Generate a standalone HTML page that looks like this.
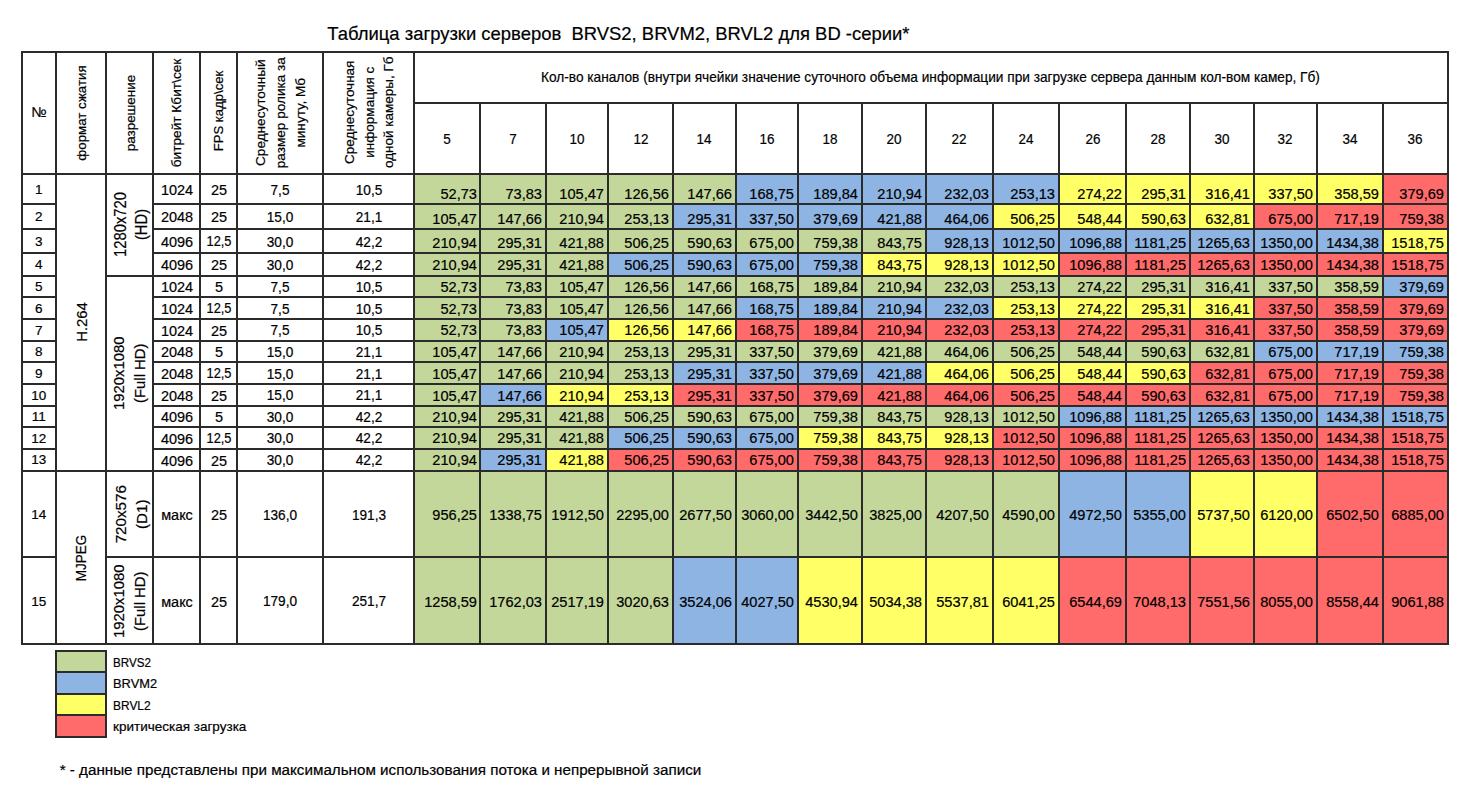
<!DOCTYPE html>
<html><head><meta charset="utf-8"><style>
html,body{margin:0;padding:0;background:#fff;width:1470px;height:800px;overflow:hidden}
.r{position:absolute}
.t{position:absolute;white-space:nowrap;font-family:"Liberation Sans", sans-serif;color:#000;-webkit-text-stroke:0.2px #000}
</style></head><body>
<div class="r" style="left:413px;top:173px;width:68px;height:32px;background:#c4d79b"></div>
<div class="r" style="left:479px;top:173px;width:68px;height:32px;background:#c4d79b"></div>
<div class="r" style="left:545px;top:173px;width:64px;height:32px;background:#c4d79b"></div>
<div class="r" style="left:607px;top:173px;width:67px;height:32px;background:#c4d79b"></div>
<div class="r" style="left:672px;top:173px;width:65px;height:32px;background:#c4d79b"></div>
<div class="r" style="left:735px;top:173px;width:64px;height:32px;background:#8db4e2"></div>
<div class="r" style="left:797px;top:173px;width:66px;height:32px;background:#8db4e2"></div>
<div class="r" style="left:861px;top:173px;width:66px;height:32px;background:#8db4e2"></div>
<div class="r" style="left:925px;top:173px;width:69px;height:32px;background:#8db4e2"></div>
<div class="r" style="left:992px;top:173px;width:68px;height:32px;background:#8db4e2"></div>
<div class="r" style="left:1058px;top:173px;width:69px;height:32px;background:#ffff66"></div>
<div class="r" style="left:1125px;top:173px;width:66px;height:32px;background:#ffff66"></div>
<div class="r" style="left:1189px;top:173px;width:66px;height:32px;background:#ffff66"></div>
<div class="r" style="left:1253px;top:173px;width:65px;height:32px;background:#ffff66"></div>
<div class="r" style="left:1316px;top:173px;width:68px;height:32px;background:#ffff66"></div>
<div class="r" style="left:1382px;top:173px;width:67px;height:32px;background:#ff6b6b"></div>
<div class="r" style="left:413px;top:203px;width:68px;height:27px;background:#c4d79b"></div>
<div class="r" style="left:479px;top:203px;width:68px;height:27px;background:#c4d79b"></div>
<div class="r" style="left:545px;top:203px;width:64px;height:27px;background:#c4d79b"></div>
<div class="r" style="left:607px;top:203px;width:67px;height:27px;background:#c4d79b"></div>
<div class="r" style="left:672px;top:203px;width:65px;height:27px;background:#8db4e2"></div>
<div class="r" style="left:735px;top:203px;width:64px;height:27px;background:#8db4e2"></div>
<div class="r" style="left:797px;top:203px;width:66px;height:27px;background:#8db4e2"></div>
<div class="r" style="left:861px;top:203px;width:66px;height:27px;background:#8db4e2"></div>
<div class="r" style="left:925px;top:203px;width:69px;height:27px;background:#8db4e2"></div>
<div class="r" style="left:992px;top:203px;width:68px;height:27px;background:#ffff66"></div>
<div class="r" style="left:1058px;top:203px;width:69px;height:27px;background:#ffff66"></div>
<div class="r" style="left:1125px;top:203px;width:66px;height:27px;background:#ffff66"></div>
<div class="r" style="left:1189px;top:203px;width:66px;height:27px;background:#ffff66"></div>
<div class="r" style="left:1253px;top:203px;width:65px;height:27px;background:#ff6b6b"></div>
<div class="r" style="left:1316px;top:203px;width:68px;height:27px;background:#ff6b6b"></div>
<div class="r" style="left:1382px;top:203px;width:67px;height:27px;background:#ff6b6b"></div>
<div class="r" style="left:413px;top:228px;width:68px;height:26px;background:#c4d79b"></div>
<div class="r" style="left:479px;top:228px;width:68px;height:26px;background:#c4d79b"></div>
<div class="r" style="left:545px;top:228px;width:64px;height:26px;background:#c4d79b"></div>
<div class="r" style="left:607px;top:228px;width:67px;height:26px;background:#c4d79b"></div>
<div class="r" style="left:672px;top:228px;width:65px;height:26px;background:#c4d79b"></div>
<div class="r" style="left:735px;top:228px;width:64px;height:26px;background:#c4d79b"></div>
<div class="r" style="left:797px;top:228px;width:66px;height:26px;background:#c4d79b"></div>
<div class="r" style="left:861px;top:228px;width:66px;height:26px;background:#c4d79b"></div>
<div class="r" style="left:925px;top:228px;width:69px;height:26px;background:#8db4e2"></div>
<div class="r" style="left:992px;top:228px;width:68px;height:26px;background:#8db4e2"></div>
<div class="r" style="left:1058px;top:228px;width:69px;height:26px;background:#8db4e2"></div>
<div class="r" style="left:1125px;top:228px;width:66px;height:26px;background:#8db4e2"></div>
<div class="r" style="left:1189px;top:228px;width:66px;height:26px;background:#8db4e2"></div>
<div class="r" style="left:1253px;top:228px;width:65px;height:26px;background:#8db4e2"></div>
<div class="r" style="left:1316px;top:228px;width:68px;height:26px;background:#8db4e2"></div>
<div class="r" style="left:1382px;top:228px;width:67px;height:26px;background:#ffff66"></div>
<div class="r" style="left:413px;top:252px;width:68px;height:25px;background:#c4d79b"></div>
<div class="r" style="left:479px;top:252px;width:68px;height:25px;background:#c4d79b"></div>
<div class="r" style="left:545px;top:252px;width:64px;height:25px;background:#c4d79b"></div>
<div class="r" style="left:607px;top:252px;width:67px;height:25px;background:#8db4e2"></div>
<div class="r" style="left:672px;top:252px;width:65px;height:25px;background:#8db4e2"></div>
<div class="r" style="left:735px;top:252px;width:64px;height:25px;background:#8db4e2"></div>
<div class="r" style="left:797px;top:252px;width:66px;height:25px;background:#8db4e2"></div>
<div class="r" style="left:861px;top:252px;width:66px;height:25px;background:#ffff66"></div>
<div class="r" style="left:925px;top:252px;width:69px;height:25px;background:#ffff66"></div>
<div class="r" style="left:992px;top:252px;width:68px;height:25px;background:#ffff66"></div>
<div class="r" style="left:1058px;top:252px;width:69px;height:25px;background:#ff6b6b"></div>
<div class="r" style="left:1125px;top:252px;width:66px;height:25px;background:#ff6b6b"></div>
<div class="r" style="left:1189px;top:252px;width:66px;height:25px;background:#ff6b6b"></div>
<div class="r" style="left:1253px;top:252px;width:65px;height:25px;background:#ff6b6b"></div>
<div class="r" style="left:1316px;top:252px;width:68px;height:25px;background:#ff6b6b"></div>
<div class="r" style="left:1382px;top:252px;width:67px;height:25px;background:#ff6b6b"></div>
<div class="r" style="left:413px;top:275px;width:68px;height:23px;background:#c4d79b"></div>
<div class="r" style="left:479px;top:275px;width:68px;height:23px;background:#c4d79b"></div>
<div class="r" style="left:545px;top:275px;width:64px;height:23px;background:#c4d79b"></div>
<div class="r" style="left:607px;top:275px;width:67px;height:23px;background:#c4d79b"></div>
<div class="r" style="left:672px;top:275px;width:65px;height:23px;background:#c4d79b"></div>
<div class="r" style="left:735px;top:275px;width:64px;height:23px;background:#c4d79b"></div>
<div class="r" style="left:797px;top:275px;width:66px;height:23px;background:#c4d79b"></div>
<div class="r" style="left:861px;top:275px;width:66px;height:23px;background:#c4d79b"></div>
<div class="r" style="left:925px;top:275px;width:69px;height:23px;background:#c4d79b"></div>
<div class="r" style="left:992px;top:275px;width:68px;height:23px;background:#c4d79b"></div>
<div class="r" style="left:1058px;top:275px;width:69px;height:23px;background:#c4d79b"></div>
<div class="r" style="left:1125px;top:275px;width:66px;height:23px;background:#c4d79b"></div>
<div class="r" style="left:1189px;top:275px;width:66px;height:23px;background:#c4d79b"></div>
<div class="r" style="left:1253px;top:275px;width:65px;height:23px;background:#c4d79b"></div>
<div class="r" style="left:1316px;top:275px;width:68px;height:23px;background:#c4d79b"></div>
<div class="r" style="left:1382px;top:275px;width:67px;height:23px;background:#8db4e2"></div>
<div class="r" style="left:413px;top:296px;width:68px;height:24px;background:#c4d79b"></div>
<div class="r" style="left:479px;top:296px;width:68px;height:24px;background:#c4d79b"></div>
<div class="r" style="left:545px;top:296px;width:64px;height:24px;background:#c4d79b"></div>
<div class="r" style="left:607px;top:296px;width:67px;height:24px;background:#c4d79b"></div>
<div class="r" style="left:672px;top:296px;width:65px;height:24px;background:#c4d79b"></div>
<div class="r" style="left:735px;top:296px;width:64px;height:24px;background:#8db4e2"></div>
<div class="r" style="left:797px;top:296px;width:66px;height:24px;background:#8db4e2"></div>
<div class="r" style="left:861px;top:296px;width:66px;height:24px;background:#8db4e2"></div>
<div class="r" style="left:925px;top:296px;width:69px;height:24px;background:#8db4e2"></div>
<div class="r" style="left:992px;top:296px;width:68px;height:24px;background:#ffff66"></div>
<div class="r" style="left:1058px;top:296px;width:69px;height:24px;background:#ffff66"></div>
<div class="r" style="left:1125px;top:296px;width:66px;height:24px;background:#ffff66"></div>
<div class="r" style="left:1189px;top:296px;width:66px;height:24px;background:#ffff66"></div>
<div class="r" style="left:1253px;top:296px;width:65px;height:24px;background:#ff6b6b"></div>
<div class="r" style="left:1316px;top:296px;width:68px;height:24px;background:#ff6b6b"></div>
<div class="r" style="left:1382px;top:296px;width:67px;height:24px;background:#ff6b6b"></div>
<div class="r" style="left:413px;top:318px;width:68px;height:24px;background:#c4d79b"></div>
<div class="r" style="left:479px;top:318px;width:68px;height:24px;background:#c4d79b"></div>
<div class="r" style="left:545px;top:318px;width:64px;height:24px;background:#8db4e2"></div>
<div class="r" style="left:607px;top:318px;width:67px;height:24px;background:#ffff66"></div>
<div class="r" style="left:672px;top:318px;width:65px;height:24px;background:#ffff66"></div>
<div class="r" style="left:735px;top:318px;width:64px;height:24px;background:#ff6b6b"></div>
<div class="r" style="left:797px;top:318px;width:66px;height:24px;background:#ff6b6b"></div>
<div class="r" style="left:861px;top:318px;width:66px;height:24px;background:#ff6b6b"></div>
<div class="r" style="left:925px;top:318px;width:69px;height:24px;background:#ff6b6b"></div>
<div class="r" style="left:992px;top:318px;width:68px;height:24px;background:#ff6b6b"></div>
<div class="r" style="left:1058px;top:318px;width:69px;height:24px;background:#ff6b6b"></div>
<div class="r" style="left:1125px;top:318px;width:66px;height:24px;background:#ff6b6b"></div>
<div class="r" style="left:1189px;top:318px;width:66px;height:24px;background:#ff6b6b"></div>
<div class="r" style="left:1253px;top:318px;width:65px;height:24px;background:#ff6b6b"></div>
<div class="r" style="left:1316px;top:318px;width:68px;height:24px;background:#ff6b6b"></div>
<div class="r" style="left:1382px;top:318px;width:67px;height:24px;background:#ff6b6b"></div>
<div class="r" style="left:413px;top:340px;width:68px;height:23px;background:#c4d79b"></div>
<div class="r" style="left:479px;top:340px;width:68px;height:23px;background:#c4d79b"></div>
<div class="r" style="left:545px;top:340px;width:64px;height:23px;background:#c4d79b"></div>
<div class="r" style="left:607px;top:340px;width:67px;height:23px;background:#c4d79b"></div>
<div class="r" style="left:672px;top:340px;width:65px;height:23px;background:#c4d79b"></div>
<div class="r" style="left:735px;top:340px;width:64px;height:23px;background:#c4d79b"></div>
<div class="r" style="left:797px;top:340px;width:66px;height:23px;background:#c4d79b"></div>
<div class="r" style="left:861px;top:340px;width:66px;height:23px;background:#c4d79b"></div>
<div class="r" style="left:925px;top:340px;width:69px;height:23px;background:#c4d79b"></div>
<div class="r" style="left:992px;top:340px;width:68px;height:23px;background:#c4d79b"></div>
<div class="r" style="left:1058px;top:340px;width:69px;height:23px;background:#c4d79b"></div>
<div class="r" style="left:1125px;top:340px;width:66px;height:23px;background:#c4d79b"></div>
<div class="r" style="left:1189px;top:340px;width:66px;height:23px;background:#c4d79b"></div>
<div class="r" style="left:1253px;top:340px;width:65px;height:23px;background:#8db4e2"></div>
<div class="r" style="left:1316px;top:340px;width:68px;height:23px;background:#8db4e2"></div>
<div class="r" style="left:1382px;top:340px;width:67px;height:23px;background:#8db4e2"></div>
<div class="r" style="left:413px;top:361px;width:68px;height:24px;background:#c4d79b"></div>
<div class="r" style="left:479px;top:361px;width:68px;height:24px;background:#c4d79b"></div>
<div class="r" style="left:545px;top:361px;width:64px;height:24px;background:#c4d79b"></div>
<div class="r" style="left:607px;top:361px;width:67px;height:24px;background:#c4d79b"></div>
<div class="r" style="left:672px;top:361px;width:65px;height:24px;background:#8db4e2"></div>
<div class="r" style="left:735px;top:361px;width:64px;height:24px;background:#8db4e2"></div>
<div class="r" style="left:797px;top:361px;width:66px;height:24px;background:#8db4e2"></div>
<div class="r" style="left:861px;top:361px;width:66px;height:24px;background:#8db4e2"></div>
<div class="r" style="left:925px;top:361px;width:69px;height:24px;background:#ffff66"></div>
<div class="r" style="left:992px;top:361px;width:68px;height:24px;background:#ffff66"></div>
<div class="r" style="left:1058px;top:361px;width:69px;height:24px;background:#ffff66"></div>
<div class="r" style="left:1125px;top:361px;width:66px;height:24px;background:#ffff66"></div>
<div class="r" style="left:1189px;top:361px;width:66px;height:24px;background:#ff6b6b"></div>
<div class="r" style="left:1253px;top:361px;width:65px;height:24px;background:#ff6b6b"></div>
<div class="r" style="left:1316px;top:361px;width:68px;height:24px;background:#ff6b6b"></div>
<div class="r" style="left:1382px;top:361px;width:67px;height:24px;background:#ff6b6b"></div>
<div class="r" style="left:413px;top:383px;width:68px;height:24px;background:#c4d79b"></div>
<div class="r" style="left:479px;top:383px;width:68px;height:24px;background:#8db4e2"></div>
<div class="r" style="left:545px;top:383px;width:64px;height:24px;background:#ffff66"></div>
<div class="r" style="left:607px;top:383px;width:67px;height:24px;background:#ffff66"></div>
<div class="r" style="left:672px;top:383px;width:65px;height:24px;background:#ff6b6b"></div>
<div class="r" style="left:735px;top:383px;width:64px;height:24px;background:#ff6b6b"></div>
<div class="r" style="left:797px;top:383px;width:66px;height:24px;background:#ff6b6b"></div>
<div class="r" style="left:861px;top:383px;width:66px;height:24px;background:#ff6b6b"></div>
<div class="r" style="left:925px;top:383px;width:69px;height:24px;background:#ff6b6b"></div>
<div class="r" style="left:992px;top:383px;width:68px;height:24px;background:#ff6b6b"></div>
<div class="r" style="left:1058px;top:383px;width:69px;height:24px;background:#ff6b6b"></div>
<div class="r" style="left:1125px;top:383px;width:66px;height:24px;background:#ff6b6b"></div>
<div class="r" style="left:1189px;top:383px;width:66px;height:24px;background:#ff6b6b"></div>
<div class="r" style="left:1253px;top:383px;width:65px;height:24px;background:#ff6b6b"></div>
<div class="r" style="left:1316px;top:383px;width:68px;height:24px;background:#ff6b6b"></div>
<div class="r" style="left:1382px;top:383px;width:67px;height:24px;background:#ff6b6b"></div>
<div class="r" style="left:413px;top:405px;width:68px;height:23px;background:#c4d79b"></div>
<div class="r" style="left:479px;top:405px;width:68px;height:23px;background:#c4d79b"></div>
<div class="r" style="left:545px;top:405px;width:64px;height:23px;background:#c4d79b"></div>
<div class="r" style="left:607px;top:405px;width:67px;height:23px;background:#c4d79b"></div>
<div class="r" style="left:672px;top:405px;width:65px;height:23px;background:#c4d79b"></div>
<div class="r" style="left:735px;top:405px;width:64px;height:23px;background:#c4d79b"></div>
<div class="r" style="left:797px;top:405px;width:66px;height:23px;background:#c4d79b"></div>
<div class="r" style="left:861px;top:405px;width:66px;height:23px;background:#c4d79b"></div>
<div class="r" style="left:925px;top:405px;width:69px;height:23px;background:#c4d79b"></div>
<div class="r" style="left:992px;top:405px;width:68px;height:23px;background:#c4d79b"></div>
<div class="r" style="left:1058px;top:405px;width:69px;height:23px;background:#8db4e2"></div>
<div class="r" style="left:1125px;top:405px;width:66px;height:23px;background:#8db4e2"></div>
<div class="r" style="left:1189px;top:405px;width:66px;height:23px;background:#8db4e2"></div>
<div class="r" style="left:1253px;top:405px;width:65px;height:23px;background:#8db4e2"></div>
<div class="r" style="left:1316px;top:405px;width:68px;height:23px;background:#8db4e2"></div>
<div class="r" style="left:1382px;top:405px;width:67px;height:23px;background:#8db4e2"></div>
<div class="r" style="left:413px;top:426px;width:68px;height:24px;background:#c4d79b"></div>
<div class="r" style="left:479px;top:426px;width:68px;height:24px;background:#c4d79b"></div>
<div class="r" style="left:545px;top:426px;width:64px;height:24px;background:#c4d79b"></div>
<div class="r" style="left:607px;top:426px;width:67px;height:24px;background:#8db4e2"></div>
<div class="r" style="left:672px;top:426px;width:65px;height:24px;background:#8db4e2"></div>
<div class="r" style="left:735px;top:426px;width:64px;height:24px;background:#8db4e2"></div>
<div class="r" style="left:797px;top:426px;width:66px;height:24px;background:#ffff66"></div>
<div class="r" style="left:861px;top:426px;width:66px;height:24px;background:#ffff66"></div>
<div class="r" style="left:925px;top:426px;width:69px;height:24px;background:#ffff66"></div>
<div class="r" style="left:992px;top:426px;width:68px;height:24px;background:#ff6b6b"></div>
<div class="r" style="left:1058px;top:426px;width:69px;height:24px;background:#ff6b6b"></div>
<div class="r" style="left:1125px;top:426px;width:66px;height:24px;background:#ff6b6b"></div>
<div class="r" style="left:1189px;top:426px;width:66px;height:24px;background:#ff6b6b"></div>
<div class="r" style="left:1253px;top:426px;width:65px;height:24px;background:#ff6b6b"></div>
<div class="r" style="left:1316px;top:426px;width:68px;height:24px;background:#ff6b6b"></div>
<div class="r" style="left:1382px;top:426px;width:67px;height:24px;background:#ff6b6b"></div>
<div class="r" style="left:413px;top:448px;width:68px;height:24px;background:#c4d79b"></div>
<div class="r" style="left:479px;top:448px;width:68px;height:24px;background:#8db4e2"></div>
<div class="r" style="left:545px;top:448px;width:64px;height:24px;background:#ffff66"></div>
<div class="r" style="left:607px;top:448px;width:67px;height:24px;background:#ff6b6b"></div>
<div class="r" style="left:672px;top:448px;width:65px;height:24px;background:#ff6b6b"></div>
<div class="r" style="left:735px;top:448px;width:64px;height:24px;background:#ff6b6b"></div>
<div class="r" style="left:797px;top:448px;width:66px;height:24px;background:#ff6b6b"></div>
<div class="r" style="left:861px;top:448px;width:66px;height:24px;background:#ff6b6b"></div>
<div class="r" style="left:925px;top:448px;width:69px;height:24px;background:#ff6b6b"></div>
<div class="r" style="left:992px;top:448px;width:68px;height:24px;background:#ff6b6b"></div>
<div class="r" style="left:1058px;top:448px;width:69px;height:24px;background:#ff6b6b"></div>
<div class="r" style="left:1125px;top:448px;width:66px;height:24px;background:#ff6b6b"></div>
<div class="r" style="left:1189px;top:448px;width:66px;height:24px;background:#ff6b6b"></div>
<div class="r" style="left:1253px;top:448px;width:65px;height:24px;background:#ff6b6b"></div>
<div class="r" style="left:1316px;top:448px;width:68px;height:24px;background:#ff6b6b"></div>
<div class="r" style="left:1382px;top:448px;width:67px;height:24px;background:#ff6b6b"></div>
<div class="r" style="left:413px;top:470px;width:68px;height:88px;background:#c4d79b"></div>
<div class="r" style="left:479px;top:470px;width:68px;height:88px;background:#c4d79b"></div>
<div class="r" style="left:545px;top:470px;width:64px;height:88px;background:#c4d79b"></div>
<div class="r" style="left:607px;top:470px;width:67px;height:88px;background:#c4d79b"></div>
<div class="r" style="left:672px;top:470px;width:65px;height:88px;background:#c4d79b"></div>
<div class="r" style="left:735px;top:470px;width:64px;height:88px;background:#c4d79b"></div>
<div class="r" style="left:797px;top:470px;width:66px;height:88px;background:#c4d79b"></div>
<div class="r" style="left:861px;top:470px;width:66px;height:88px;background:#c4d79b"></div>
<div class="r" style="left:925px;top:470px;width:69px;height:88px;background:#c4d79b"></div>
<div class="r" style="left:992px;top:470px;width:68px;height:88px;background:#c4d79b"></div>
<div class="r" style="left:1058px;top:470px;width:69px;height:88px;background:#8db4e2"></div>
<div class="r" style="left:1125px;top:470px;width:66px;height:88px;background:#8db4e2"></div>
<div class="r" style="left:1189px;top:470px;width:66px;height:88px;background:#ffff66"></div>
<div class="r" style="left:1253px;top:470px;width:65px;height:88px;background:#ffff66"></div>
<div class="r" style="left:1316px;top:470px;width:68px;height:88px;background:#ff6b6b"></div>
<div class="r" style="left:1382px;top:470px;width:67px;height:88px;background:#ff6b6b"></div>
<div class="r" style="left:413px;top:556px;width:68px;height:89px;background:#c4d79b"></div>
<div class="r" style="left:479px;top:556px;width:68px;height:89px;background:#c4d79b"></div>
<div class="r" style="left:545px;top:556px;width:64px;height:89px;background:#c4d79b"></div>
<div class="r" style="left:607px;top:556px;width:67px;height:89px;background:#c4d79b"></div>
<div class="r" style="left:672px;top:556px;width:65px;height:89px;background:#8db4e2"></div>
<div class="r" style="left:735px;top:556px;width:64px;height:89px;background:#8db4e2"></div>
<div class="r" style="left:797px;top:556px;width:66px;height:89px;background:#ffff66"></div>
<div class="r" style="left:861px;top:556px;width:66px;height:89px;background:#ffff66"></div>
<div class="r" style="left:925px;top:556px;width:69px;height:89px;background:#ffff66"></div>
<div class="r" style="left:992px;top:556px;width:68px;height:89px;background:#ffff66"></div>
<div class="r" style="left:1058px;top:556px;width:69px;height:89px;background:#ff6b6b"></div>
<div class="r" style="left:1125px;top:556px;width:66px;height:89px;background:#ff6b6b"></div>
<div class="r" style="left:1189px;top:556px;width:66px;height:89px;background:#ff6b6b"></div>
<div class="r" style="left:1253px;top:556px;width:65px;height:89px;background:#ff6b6b"></div>
<div class="r" style="left:1316px;top:556px;width:68px;height:89px;background:#ff6b6b"></div>
<div class="r" style="left:1382px;top:556px;width:67px;height:89px;background:#ff6b6b"></div>
<div class="r" style="left:55px;top:650px;width:52px;height:23px;background:#c4d79b"></div>
<div class="r" style="left:55px;top:671px;width:52px;height:24px;background:#8db4e2"></div>
<div class="r" style="left:55px;top:693px;width:52px;height:23px;background:#ffff66"></div>
<div class="r" style="left:55px;top:714px;width:52px;height:24px;background:#ff6b6b"></div>
<div class="r" style="left:21px;top:51px;width:2px;height:594px;background:#2b2b2b"></div>
<div class="r" style="left:55px;top:51px;width:2px;height:594px;background:#2b2b2b"></div>
<div class="r" style="left:105px;top:51px;width:2px;height:594px;background:#2b2b2b"></div>
<div class="r" style="left:152px;top:51px;width:2px;height:594px;background:#2b2b2b"></div>
<div class="r" style="left:199px;top:51px;width:2px;height:594px;background:#2b2b2b"></div>
<div class="r" style="left:236px;top:51px;width:2px;height:594px;background:#2b2b2b"></div>
<div class="r" style="left:322px;top:51px;width:2px;height:594px;background:#2b2b2b"></div>
<div class="r" style="left:413px;top:51px;width:2px;height:594px;background:#2b2b2b"></div>
<div class="r" style="left:1447px;top:51px;width:2px;height:594px;background:#2b2b2b"></div>
<div class="r" style="left:479px;top:102px;width:2px;height:543px;background:#2b2b2b"></div>
<div class="r" style="left:545px;top:102px;width:2px;height:543px;background:#2b2b2b"></div>
<div class="r" style="left:607px;top:102px;width:2px;height:543px;background:#2b2b2b"></div>
<div class="r" style="left:672px;top:102px;width:2px;height:543px;background:#2b2b2b"></div>
<div class="r" style="left:735px;top:102px;width:2px;height:543px;background:#2b2b2b"></div>
<div class="r" style="left:797px;top:102px;width:2px;height:543px;background:#2b2b2b"></div>
<div class="r" style="left:861px;top:102px;width:2px;height:543px;background:#2b2b2b"></div>
<div class="r" style="left:925px;top:102px;width:2px;height:543px;background:#2b2b2b"></div>
<div class="r" style="left:992px;top:102px;width:2px;height:543px;background:#2b2b2b"></div>
<div class="r" style="left:1058px;top:102px;width:2px;height:543px;background:#2b2b2b"></div>
<div class="r" style="left:1125px;top:102px;width:2px;height:543px;background:#2b2b2b"></div>
<div class="r" style="left:1189px;top:102px;width:2px;height:543px;background:#2b2b2b"></div>
<div class="r" style="left:1253px;top:102px;width:2px;height:543px;background:#2b2b2b"></div>
<div class="r" style="left:1316px;top:102px;width:2px;height:543px;background:#2b2b2b"></div>
<div class="r" style="left:1382px;top:102px;width:2px;height:543px;background:#2b2b2b"></div>
<div class="r" style="left:21px;top:51px;width:1428px;height:2px;background:#2b2b2b"></div>
<div class="r" style="left:413px;top:102px;width:1036px;height:2px;background:#2b2b2b"></div>
<div class="r" style="left:21px;top:173px;width:1428px;height:2px;background:#2b2b2b"></div>
<div class="r" style="left:21px;top:203px;width:36px;height:2px;background:#2b2b2b"></div>
<div class="r" style="left:152px;top:203px;width:1297px;height:2px;background:#2b2b2b"></div>
<div class="r" style="left:21px;top:228px;width:36px;height:2px;background:#2b2b2b"></div>
<div class="r" style="left:152px;top:228px;width:1297px;height:2px;background:#2b2b2b"></div>
<div class="r" style="left:21px;top:252px;width:36px;height:2px;background:#2b2b2b"></div>
<div class="r" style="left:152px;top:252px;width:1297px;height:2px;background:#2b2b2b"></div>
<div class="r" style="left:21px;top:275px;width:36px;height:2px;background:#2b2b2b"></div>
<div class="r" style="left:105px;top:275px;width:1344px;height:2px;background:#2b2b2b"></div>
<div class="r" style="left:21px;top:296px;width:36px;height:2px;background:#2b2b2b"></div>
<div class="r" style="left:152px;top:296px;width:1297px;height:2px;background:#2b2b2b"></div>
<div class="r" style="left:21px;top:318px;width:36px;height:2px;background:#2b2b2b"></div>
<div class="r" style="left:152px;top:318px;width:1297px;height:2px;background:#2b2b2b"></div>
<div class="r" style="left:21px;top:340px;width:36px;height:2px;background:#2b2b2b"></div>
<div class="r" style="left:152px;top:340px;width:1297px;height:2px;background:#2b2b2b"></div>
<div class="r" style="left:21px;top:361px;width:36px;height:2px;background:#2b2b2b"></div>
<div class="r" style="left:152px;top:361px;width:1297px;height:2px;background:#2b2b2b"></div>
<div class="r" style="left:21px;top:383px;width:36px;height:2px;background:#2b2b2b"></div>
<div class="r" style="left:152px;top:383px;width:1297px;height:2px;background:#2b2b2b"></div>
<div class="r" style="left:21px;top:405px;width:36px;height:2px;background:#2b2b2b"></div>
<div class="r" style="left:152px;top:405px;width:1297px;height:2px;background:#2b2b2b"></div>
<div class="r" style="left:21px;top:426px;width:36px;height:2px;background:#2b2b2b"></div>
<div class="r" style="left:152px;top:426px;width:1297px;height:2px;background:#2b2b2b"></div>
<div class="r" style="left:21px;top:448px;width:36px;height:2px;background:#2b2b2b"></div>
<div class="r" style="left:152px;top:448px;width:1297px;height:2px;background:#2b2b2b"></div>
<div class="r" style="left:21px;top:470px;width:1428px;height:2px;background:#2b2b2b"></div>
<div class="r" style="left:21px;top:556px;width:36px;height:2px;background:#2b2b2b"></div>
<div class="r" style="left:105px;top:556px;width:1344px;height:2px;background:#2b2b2b"></div>
<div class="r" style="left:21px;top:643px;width:1428px;height:2px;background:#2b2b2b"></div>
<div class="r" style="left:55px;top:650px;width:52px;height:2px;background:#2b2b2b"></div>
<div class="r" style="left:55px;top:671px;width:52px;height:2px;background:#2b2b2b"></div>
<div class="r" style="left:55px;top:693px;width:52px;height:2px;background:#2b2b2b"></div>
<div class="r" style="left:55px;top:714px;width:52px;height:2px;background:#2b2b2b"></div>
<div class="r" style="left:55px;top:736px;width:52px;height:2px;background:#2b2b2b"></div>
<div class="r" style="left:55px;top:650px;width:2px;height:88px;background:#2b2b2b"></div>
<div class="r" style="left:105px;top:650px;width:2px;height:88px;background:#2b2b2b"></div>
<div class="t" style="top:24.00px;font-size:18.46px;line-height:20px;color:#000;left:327.30px;transform-origin:left center;">Таблица загрузки серверов&nbsp; BRVS2, BRVM2, BRVL2 для BD -серии*</div>
<div class="t" style="top:66.58px;font-size:14.5px;line-height:20px;color:#000;transform:scaleX(0.943);left:541.40px;transform-origin:left center;">Кол-во каналов (внутри ячейки значение суточного объема информации при загрузке сервера данным кол-вом камер, Гб)</div>
<div class="t" style="top:128.68px;font-size:14.5px;line-height:20px;color:#000;transform:scaleX(0.93);left:-52.65px;width:1000px;text-align:center;transform-origin:center center;">5</div>
<div class="t" style="top:128.68px;font-size:14.5px;line-height:20px;color:#000;transform:scaleX(0.93);left:13.05px;width:1000px;text-align:center;transform-origin:center center;">7</div>
<div class="t" style="top:128.68px;font-size:14.5px;line-height:20px;color:#000;transform:scaleX(0.93);left:76.85px;width:1000px;text-align:center;transform-origin:center center;">10</div>
<div class="t" style="top:128.68px;font-size:14.5px;line-height:20px;color:#000;transform:scaleX(0.93);left:140.60px;width:1000px;text-align:center;transform-origin:center center;">12</div>
<div class="t" style="top:128.68px;font-size:14.5px;line-height:20px;color:#000;transform:scaleX(0.93);left:204.40px;width:1000px;text-align:center;transform-origin:center center;">14</div>
<div class="t" style="top:128.68px;font-size:14.5px;line-height:20px;color:#000;transform:scaleX(0.93);left:266.90px;width:1000px;text-align:center;transform-origin:center center;">16</div>
<div class="t" style="top:128.68px;font-size:14.5px;line-height:20px;color:#000;transform:scaleX(0.93);left:330.00px;width:1000px;text-align:center;transform-origin:center center;">18</div>
<div class="t" style="top:128.68px;font-size:14.5px;line-height:20px;color:#000;transform:scaleX(0.93);left:393.70px;width:1000px;text-align:center;transform-origin:center center;">20</div>
<div class="t" style="top:128.68px;font-size:14.5px;line-height:20px;color:#000;transform:scaleX(0.93);left:459.30px;width:1000px;text-align:center;transform-origin:center center;">22</div>
<div class="t" style="top:128.68px;font-size:14.5px;line-height:20px;color:#000;transform:scaleX(0.93);left:526.05px;width:1000px;text-align:center;transform-origin:center center;">24</div>
<div class="t" style="top:128.68px;font-size:14.5px;line-height:20px;color:#000;transform:scaleX(0.93);left:592.70px;width:1000px;text-align:center;transform-origin:center center;">26</div>
<div class="t" style="top:128.68px;font-size:14.5px;line-height:20px;color:#000;transform:scaleX(0.93);left:658.20px;width:1000px;text-align:center;transform-origin:center center;">28</div>
<div class="t" style="top:128.68px;font-size:14.5px;line-height:20px;color:#000;transform:scaleX(0.93);left:722.05px;width:1000px;text-align:center;transform-origin:center center;">30</div>
<div class="t" style="top:128.68px;font-size:14.5px;line-height:20px;color:#000;transform:scaleX(0.93);left:785.30px;width:1000px;text-align:center;transform-origin:center center;">32</div>
<div class="t" style="top:128.68px;font-size:14.5px;line-height:20px;color:#000;transform:scaleX(0.93);left:849.70px;width:1000px;text-align:center;transform-origin:center center;">34</div>
<div class="t" style="top:128.68px;font-size:14.5px;line-height:20px;color:#000;transform:scaleX(0.93);left:915.20px;width:1000px;text-align:center;transform-origin:center center;">36</div>
<div class="t" style="top:102.35px;font-size:14.3px;line-height:20px;color:#000;left:-460.90px;width:1000px;text-align:center;transform-origin:center center;">№</div>
<div class="t" style="left:-67.91px;top:103.00px;width:300px;height:20px;font-size:13.3px;line-height:20px;text-align:center;transform:rotate(-90deg)">формат сжатия</div>
<div class="t" style="left:-18.84px;top:102.60px;width:300px;height:20px;font-size:13.4px;line-height:20px;text-align:center;transform:rotate(-90deg)">разрешение</div>
<div class="t" style="left:26.75px;top:102.50px;width:300px;height:20px;font-size:13.7px;line-height:20px;text-align:center;transform:rotate(-90deg)">битрейт Кбит\сек</div>
<div class="t" style="left:69.46px;top:101.40px;width:300px;height:20px;font-size:13.1px;line-height:20px;text-align:center;transform:rotate(-90deg)">FPS кадр\сек</div>
<div class="t" style="left:131.09px;top:83.30px;width:300px;height:59.400000000000006px;font-size:13.6px;line-height:19.8px;text-align:center;transform:rotate(-90deg)">Среднесуточный<br>размер ролика за<br>минуту, Мб</div>
<div class="t" style="left:219.32px;top:83.25px;width:300px;height:58.5px;font-size:13.5px;line-height:19.5px;text-align:center;transform:rotate(-90deg)">Среднесуточная<br>информация с<br>одной камеры, Гб</div>
<div class="t" style="left:-68.47px;top:312.10px;width:300px;height:20px;font-size:15.2px;line-height:20px;text-align:center;transform:rotate(-90deg) scaleX(0.98)">H.264</div>
<div class="t" style="left:-69.07px;top:547.70px;width:300px;height:20px;font-size:15.5px;line-height:20px;text-align:center;transform:rotate(-90deg) scaleX(0.87)">MJPEG</div>
<div class="t" style="left:-19.29px;top:204.00px;width:300px;height:41.0px;font-size:16.0px;line-height:20.5px;text-align:center;transform:rotate(-90deg) scaleX(0.925)">1280x720<br>(HD)</div>
<div class="t" style="left:-19.76px;top:351.60px;width:300px;height:42.4px;font-size:14.9px;line-height:21.2px;text-align:center;transform:rotate(-90deg)">1920x1080<br>(Full HD)</div>
<div class="t" style="left:-19.47px;top:493.10px;width:300px;height:42.4px;font-size:15.2px;line-height:21.2px;text-align:center;transform:rotate(-90deg)">720x576<br>(D1)</div>
<div class="t" style="left:-19.76px;top:579.60px;width:300px;height:42.4px;font-size:14.9px;line-height:21.2px;text-align:center;transform:rotate(-90deg)">1920x1080<br>(Full HD)</div>
<div class="t" style="top:179.77px;font-size:13.5px;line-height:20px;color:#000;left:-461.20px;width:1000px;text-align:center;transform-origin:center center;">1</div>
<div class="t" style="top:179.89px;font-size:14.9px;line-height:20px;color:#000;transform:scaleX(0.971);left:-323.30px;width:1000px;text-align:center;transform-origin:center center;">1024</div>
<div class="t" style="top:179.89px;font-size:14.9px;line-height:20px;color:#000;transform:scaleX(0.971);left:-281.20px;width:1000px;text-align:center;transform-origin:center center;">25</div>
<div class="t" style="top:179.50px;font-size:14.3px;line-height:20px;color:#000;transform:scaleX(0.954);left:-219.80px;width:1000px;text-align:center;transform-origin:center center;">7,5</div>
<div class="t" style="top:179.50px;font-size:14.3px;line-height:20px;color:#000;transform:scaleX(0.954);left:-131.35px;width:1000px;text-align:center;transform-origin:center center;">10,5</div>
<div class="t" style="top:183.70px;font-size:15.0px;line-height:20px;color:#000;transform:scaleX(0.973);left:-523.50px;width:1000px;text-align:right;transform-origin:right center;">52,73</div>
<div class="t" style="top:183.70px;font-size:15.0px;line-height:20px;color:#000;transform:scaleX(0.973);left:-458.20px;width:1000px;text-align:right;transform-origin:right center;">73,83</div>
<div class="t" style="top:183.70px;font-size:15.0px;line-height:20px;color:#000;transform:scaleX(0.973);left:-395.90px;width:1000px;text-align:right;transform-origin:right center;">105,47</div>
<div class="t" style="top:183.70px;font-size:15.0px;line-height:20px;color:#000;transform:scaleX(0.973);left:-330.70px;width:1000px;text-align:right;transform-origin:right center;">126,56</div>
<div class="t" style="top:183.70px;font-size:15.0px;line-height:20px;color:#000;transform:scaleX(0.973);left:-268.30px;width:1000px;text-align:right;transform-origin:right center;">147,66</div>
<div class="t" style="top:183.70px;font-size:15.0px;line-height:20px;color:#000;transform:scaleX(0.973);left:-205.70px;width:1000px;text-align:right;transform-origin:right center;">168,75</div>
<div class="t" style="top:183.70px;font-size:15.0px;line-height:20px;color:#000;transform:scaleX(0.973);left:-142.10px;width:1000px;text-align:right;transform-origin:right center;">189,84</div>
<div class="t" style="top:183.70px;font-size:15.0px;line-height:20px;color:#000;transform:scaleX(0.973);left:-78.30px;width:1000px;text-align:right;transform-origin:right center;">210,94</div>
<div class="t" style="top:183.70px;font-size:15.0px;line-height:20px;color:#000;transform:scaleX(0.973);left:-10.90px;width:1000px;text-align:right;transform-origin:right center;">232,03</div>
<div class="t" style="top:183.70px;font-size:15.0px;line-height:20px;color:#000;transform:scaleX(0.973);left:55.20px;width:1000px;text-align:right;transform-origin:right center;">253,13</div>
<div class="t" style="top:183.70px;font-size:15.0px;line-height:20px;color:#000;transform:scaleX(0.973);left:122.40px;width:1000px;text-align:right;transform-origin:right center;">274,22</div>
<div class="t" style="top:183.70px;font-size:15.0px;line-height:20px;color:#000;transform:scaleX(0.973);left:186.20px;width:1000px;text-align:right;transform-origin:right center;">295,31</div>
<div class="t" style="top:183.70px;font-size:15.0px;line-height:20px;color:#000;transform:scaleX(0.973);left:250.10px;width:1000px;text-align:right;transform-origin:right center;">316,41</div>
<div class="t" style="top:183.70px;font-size:15.0px;line-height:20px;color:#000;transform:scaleX(0.973);left:312.70px;width:1000px;text-align:right;transform-origin:right center;">337,50</div>
<div class="t" style="top:183.70px;font-size:15.0px;line-height:20px;color:#000;transform:scaleX(0.973);left:378.90px;width:1000px;text-align:right;transform-origin:right center;">358,59</div>
<div class="t" style="top:183.70px;font-size:15.0px;line-height:20px;color:#000;transform:scaleX(0.973);left:443.70px;width:1000px;text-align:right;transform-origin:right center;">379,69</div>
<div class="t" style="top:207.32px;font-size:13.5px;line-height:20px;color:#000;left:-461.20px;width:1000px;text-align:center;transform-origin:center center;">2</div>
<div class="t" style="top:207.44px;font-size:14.9px;line-height:20px;color:#000;transform:scaleX(0.971);left:-323.30px;width:1000px;text-align:center;transform-origin:center center;">2048</div>
<div class="t" style="top:207.44px;font-size:14.9px;line-height:20px;color:#000;transform:scaleX(0.971);left:-281.20px;width:1000px;text-align:center;transform-origin:center center;">25</div>
<div class="t" style="top:207.05px;font-size:14.3px;line-height:20px;color:#000;transform:scaleX(0.954);left:-219.80px;width:1000px;text-align:center;transform-origin:center center;">15,0</div>
<div class="t" style="top:207.05px;font-size:14.3px;line-height:20px;color:#000;transform:scaleX(0.954);left:-131.35px;width:1000px;text-align:center;transform-origin:center center;">21,1</div>
<div class="t" style="top:208.70px;font-size:15.0px;line-height:20px;color:#000;transform:scaleX(0.973);left:-523.50px;width:1000px;text-align:right;transform-origin:right center;">105,47</div>
<div class="t" style="top:208.70px;font-size:15.0px;line-height:20px;color:#000;transform:scaleX(0.973);left:-458.20px;width:1000px;text-align:right;transform-origin:right center;">147,66</div>
<div class="t" style="top:208.70px;font-size:15.0px;line-height:20px;color:#000;transform:scaleX(0.973);left:-395.90px;width:1000px;text-align:right;transform-origin:right center;">210,94</div>
<div class="t" style="top:208.70px;font-size:15.0px;line-height:20px;color:#000;transform:scaleX(0.973);left:-330.70px;width:1000px;text-align:right;transform-origin:right center;">253,13</div>
<div class="t" style="top:208.70px;font-size:15.0px;line-height:20px;color:#000;transform:scaleX(0.973);left:-268.30px;width:1000px;text-align:right;transform-origin:right center;">295,31</div>
<div class="t" style="top:208.70px;font-size:15.0px;line-height:20px;color:#000;transform:scaleX(0.973);left:-205.70px;width:1000px;text-align:right;transform-origin:right center;">337,50</div>
<div class="t" style="top:208.70px;font-size:15.0px;line-height:20px;color:#000;transform:scaleX(0.973);left:-142.10px;width:1000px;text-align:right;transform-origin:right center;">379,69</div>
<div class="t" style="top:208.70px;font-size:15.0px;line-height:20px;color:#000;transform:scaleX(0.973);left:-78.30px;width:1000px;text-align:right;transform-origin:right center;">421,88</div>
<div class="t" style="top:208.70px;font-size:15.0px;line-height:20px;color:#000;transform:scaleX(0.973);left:-10.90px;width:1000px;text-align:right;transform-origin:right center;">464,06</div>
<div class="t" style="top:208.70px;font-size:15.0px;line-height:20px;color:#000;transform:scaleX(0.973);left:55.20px;width:1000px;text-align:right;transform-origin:right center;">506,25</div>
<div class="t" style="top:208.70px;font-size:15.0px;line-height:20px;color:#000;transform:scaleX(0.973);left:122.40px;width:1000px;text-align:right;transform-origin:right center;">548,44</div>
<div class="t" style="top:208.70px;font-size:15.0px;line-height:20px;color:#000;transform:scaleX(0.973);left:186.20px;width:1000px;text-align:right;transform-origin:right center;">590,63</div>
<div class="t" style="top:208.70px;font-size:15.0px;line-height:20px;color:#000;transform:scaleX(0.973);left:250.10px;width:1000px;text-align:right;transform-origin:right center;">632,81</div>
<div class="t" style="top:208.70px;font-size:15.0px;line-height:20px;color:#000;transform:scaleX(0.973);left:312.70px;width:1000px;text-align:right;transform-origin:right center;">675,00</div>
<div class="t" style="top:208.70px;font-size:15.0px;line-height:20px;color:#000;transform:scaleX(0.973);left:378.90px;width:1000px;text-align:right;transform-origin:right center;">717,19</div>
<div class="t" style="top:208.70px;font-size:15.0px;line-height:20px;color:#000;transform:scaleX(0.973);left:443.70px;width:1000px;text-align:right;transform-origin:right center;">759,38</div>
<div class="t" style="top:231.82px;font-size:13.5px;line-height:20px;color:#000;left:-461.20px;width:1000px;text-align:center;transform-origin:center center;">3</div>
<div class="t" style="top:231.94px;font-size:14.9px;line-height:20px;color:#000;transform:scaleX(0.971);left:-323.30px;width:1000px;text-align:center;transform-origin:center center;">4096</div>
<div class="t" style="top:232.22px;font-size:13.8px;line-height:20px;color:#000;transform:scaleX(0.93);left:-281.20px;width:1000px;text-align:center;transform-origin:center center;">12,5</div>
<div class="t" style="top:231.55px;font-size:14.3px;line-height:20px;color:#000;transform:scaleX(0.954);left:-219.80px;width:1000px;text-align:center;transform-origin:center center;">30,0</div>
<div class="t" style="top:231.55px;font-size:14.3px;line-height:20px;color:#000;transform:scaleX(0.954);left:-131.35px;width:1000px;text-align:center;transform-origin:center center;">42,2</div>
<div class="t" style="top:232.70px;font-size:15.0px;line-height:20px;color:#000;transform:scaleX(0.973);left:-523.50px;width:1000px;text-align:right;transform-origin:right center;">210,94</div>
<div class="t" style="top:232.70px;font-size:15.0px;line-height:20px;color:#000;transform:scaleX(0.973);left:-458.20px;width:1000px;text-align:right;transform-origin:right center;">295,31</div>
<div class="t" style="top:232.70px;font-size:15.0px;line-height:20px;color:#000;transform:scaleX(0.973);left:-395.90px;width:1000px;text-align:right;transform-origin:right center;">421,88</div>
<div class="t" style="top:232.70px;font-size:15.0px;line-height:20px;color:#000;transform:scaleX(0.973);left:-330.70px;width:1000px;text-align:right;transform-origin:right center;">506,25</div>
<div class="t" style="top:232.70px;font-size:15.0px;line-height:20px;color:#000;transform:scaleX(0.973);left:-268.30px;width:1000px;text-align:right;transform-origin:right center;">590,63</div>
<div class="t" style="top:232.70px;font-size:15.0px;line-height:20px;color:#000;transform:scaleX(0.973);left:-205.70px;width:1000px;text-align:right;transform-origin:right center;">675,00</div>
<div class="t" style="top:232.70px;font-size:15.0px;line-height:20px;color:#000;transform:scaleX(0.973);left:-142.10px;width:1000px;text-align:right;transform-origin:right center;">759,38</div>
<div class="t" style="top:232.70px;font-size:15.0px;line-height:20px;color:#000;transform:scaleX(0.973);left:-78.30px;width:1000px;text-align:right;transform-origin:right center;">843,75</div>
<div class="t" style="top:232.70px;font-size:15.0px;line-height:20px;color:#000;transform:scaleX(0.973);left:-10.90px;width:1000px;text-align:right;transform-origin:right center;">928,13</div>
<div class="t" style="top:232.70px;font-size:15.0px;line-height:20px;color:#000;transform:scaleX(0.973);left:55.20px;width:1000px;text-align:right;transform-origin:right center;">1012,50</div>
<div class="t" style="top:232.70px;font-size:15.0px;line-height:20px;color:#000;transform:scaleX(0.973);left:122.40px;width:1000px;text-align:right;transform-origin:right center;">1096,88</div>
<div class="t" style="top:232.70px;font-size:15.0px;line-height:20px;color:#000;transform:scaleX(0.973);left:186.20px;width:1000px;text-align:right;transform-origin:right center;">1181,25</div>
<div class="t" style="top:232.70px;font-size:15.0px;line-height:20px;color:#000;transform:scaleX(0.973);left:250.10px;width:1000px;text-align:right;transform-origin:right center;">1265,63</div>
<div class="t" style="top:232.70px;font-size:15.0px;line-height:20px;color:#000;transform:scaleX(0.973);left:312.70px;width:1000px;text-align:right;transform-origin:right center;">1350,00</div>
<div class="t" style="top:232.70px;font-size:15.0px;line-height:20px;color:#000;transform:scaleX(0.973);left:378.90px;width:1000px;text-align:right;transform-origin:right center;">1434,38</div>
<div class="t" style="top:232.70px;font-size:15.0px;line-height:20px;color:#000;transform:scaleX(0.973);left:443.70px;width:1000px;text-align:right;transform-origin:right center;">1518,75</div>
<div class="t" style="top:255.07px;font-size:13.5px;line-height:20px;color:#000;left:-461.20px;width:1000px;text-align:center;transform-origin:center center;">4</div>
<div class="t" style="top:255.19px;font-size:14.9px;line-height:20px;color:#000;transform:scaleX(0.971);left:-323.30px;width:1000px;text-align:center;transform-origin:center center;">4096</div>
<div class="t" style="top:255.19px;font-size:14.9px;line-height:20px;color:#000;transform:scaleX(0.971);left:-281.20px;width:1000px;text-align:center;transform-origin:center center;">25</div>
<div class="t" style="top:254.80px;font-size:14.3px;line-height:20px;color:#000;transform:scaleX(0.954);left:-219.80px;width:1000px;text-align:center;transform-origin:center center;">30,0</div>
<div class="t" style="top:254.80px;font-size:14.3px;line-height:20px;color:#000;transform:scaleX(0.954);left:-131.35px;width:1000px;text-align:center;transform-origin:center center;">42,2</div>
<div class="t" style="top:255.20px;font-size:15.0px;line-height:20px;color:#000;transform:scaleX(0.973);left:-523.50px;width:1000px;text-align:right;transform-origin:right center;">210,94</div>
<div class="t" style="top:255.20px;font-size:15.0px;line-height:20px;color:#000;transform:scaleX(0.973);left:-458.20px;width:1000px;text-align:right;transform-origin:right center;">295,31</div>
<div class="t" style="top:255.20px;font-size:15.0px;line-height:20px;color:#000;transform:scaleX(0.973);left:-395.90px;width:1000px;text-align:right;transform-origin:right center;">421,88</div>
<div class="t" style="top:255.20px;font-size:15.0px;line-height:20px;color:#000;transform:scaleX(0.973);left:-330.70px;width:1000px;text-align:right;transform-origin:right center;">506,25</div>
<div class="t" style="top:255.20px;font-size:15.0px;line-height:20px;color:#000;transform:scaleX(0.973);left:-268.30px;width:1000px;text-align:right;transform-origin:right center;">590,63</div>
<div class="t" style="top:255.20px;font-size:15.0px;line-height:20px;color:#000;transform:scaleX(0.973);left:-205.70px;width:1000px;text-align:right;transform-origin:right center;">675,00</div>
<div class="t" style="top:255.20px;font-size:15.0px;line-height:20px;color:#000;transform:scaleX(0.973);left:-142.10px;width:1000px;text-align:right;transform-origin:right center;">759,38</div>
<div class="t" style="top:255.20px;font-size:15.0px;line-height:20px;color:#000;transform:scaleX(0.973);left:-78.30px;width:1000px;text-align:right;transform-origin:right center;">843,75</div>
<div class="t" style="top:255.20px;font-size:15.0px;line-height:20px;color:#000;transform:scaleX(0.973);left:-10.90px;width:1000px;text-align:right;transform-origin:right center;">928,13</div>
<div class="t" style="top:255.20px;font-size:15.0px;line-height:20px;color:#000;transform:scaleX(0.973);left:55.20px;width:1000px;text-align:right;transform-origin:right center;">1012,50</div>
<div class="t" style="top:255.20px;font-size:15.0px;line-height:20px;color:#000;transform:scaleX(0.973);left:122.40px;width:1000px;text-align:right;transform-origin:right center;">1096,88</div>
<div class="t" style="top:255.20px;font-size:15.0px;line-height:20px;color:#000;transform:scaleX(0.973);left:186.20px;width:1000px;text-align:right;transform-origin:right center;">1181,25</div>
<div class="t" style="top:255.20px;font-size:15.0px;line-height:20px;color:#000;transform:scaleX(0.973);left:250.10px;width:1000px;text-align:right;transform-origin:right center;">1265,63</div>
<div class="t" style="top:255.20px;font-size:15.0px;line-height:20px;color:#000;transform:scaleX(0.973);left:312.70px;width:1000px;text-align:right;transform-origin:right center;">1350,00</div>
<div class="t" style="top:255.20px;font-size:15.0px;line-height:20px;color:#000;transform:scaleX(0.973);left:378.90px;width:1000px;text-align:right;transform-origin:right center;">1434,38</div>
<div class="t" style="top:255.20px;font-size:15.0px;line-height:20px;color:#000;transform:scaleX(0.973);left:443.70px;width:1000px;text-align:right;transform-origin:right center;">1518,75</div>
<div class="t" style="top:277.07px;font-size:13.5px;line-height:20px;color:#000;left:-461.20px;width:1000px;text-align:center;transform-origin:center center;">5</div>
<div class="t" style="top:277.19px;font-size:14.9px;line-height:20px;color:#000;transform:scaleX(0.971);left:-323.30px;width:1000px;text-align:center;transform-origin:center center;">1024</div>
<div class="t" style="top:277.19px;font-size:14.9px;line-height:20px;color:#000;transform:scaleX(0.971);left:-281.20px;width:1000px;text-align:center;transform-origin:center center;">5</div>
<div class="t" style="top:276.80px;font-size:14.3px;line-height:20px;color:#000;transform:scaleX(0.954);left:-219.80px;width:1000px;text-align:center;transform-origin:center center;">7,5</div>
<div class="t" style="top:276.80px;font-size:14.3px;line-height:20px;color:#000;transform:scaleX(0.954);left:-131.35px;width:1000px;text-align:center;transform-origin:center center;">10,5</div>
<div class="t" style="top:276.70px;font-size:15.0px;line-height:20px;color:#000;transform:scaleX(0.973);left:-523.50px;width:1000px;text-align:right;transform-origin:right center;">52,73</div>
<div class="t" style="top:276.70px;font-size:15.0px;line-height:20px;color:#000;transform:scaleX(0.973);left:-458.20px;width:1000px;text-align:right;transform-origin:right center;">73,83</div>
<div class="t" style="top:276.70px;font-size:15.0px;line-height:20px;color:#000;transform:scaleX(0.973);left:-395.90px;width:1000px;text-align:right;transform-origin:right center;">105,47</div>
<div class="t" style="top:276.70px;font-size:15.0px;line-height:20px;color:#000;transform:scaleX(0.973);left:-330.70px;width:1000px;text-align:right;transform-origin:right center;">126,56</div>
<div class="t" style="top:276.70px;font-size:15.0px;line-height:20px;color:#000;transform:scaleX(0.973);left:-268.30px;width:1000px;text-align:right;transform-origin:right center;">147,66</div>
<div class="t" style="top:276.70px;font-size:15.0px;line-height:20px;color:#000;transform:scaleX(0.973);left:-205.70px;width:1000px;text-align:right;transform-origin:right center;">168,75</div>
<div class="t" style="top:276.70px;font-size:15.0px;line-height:20px;color:#000;transform:scaleX(0.973);left:-142.10px;width:1000px;text-align:right;transform-origin:right center;">189,84</div>
<div class="t" style="top:276.70px;font-size:15.0px;line-height:20px;color:#000;transform:scaleX(0.973);left:-78.30px;width:1000px;text-align:right;transform-origin:right center;">210,94</div>
<div class="t" style="top:276.70px;font-size:15.0px;line-height:20px;color:#000;transform:scaleX(0.973);left:-10.90px;width:1000px;text-align:right;transform-origin:right center;">232,03</div>
<div class="t" style="top:276.70px;font-size:15.0px;line-height:20px;color:#000;transform:scaleX(0.973);left:55.20px;width:1000px;text-align:right;transform-origin:right center;">253,13</div>
<div class="t" style="top:276.70px;font-size:15.0px;line-height:20px;color:#000;transform:scaleX(0.973);left:122.40px;width:1000px;text-align:right;transform-origin:right center;">274,22</div>
<div class="t" style="top:276.70px;font-size:15.0px;line-height:20px;color:#000;transform:scaleX(0.973);left:186.20px;width:1000px;text-align:right;transform-origin:right center;">295,31</div>
<div class="t" style="top:276.70px;font-size:15.0px;line-height:20px;color:#000;transform:scaleX(0.973);left:250.10px;width:1000px;text-align:right;transform-origin:right center;">316,41</div>
<div class="t" style="top:276.70px;font-size:15.0px;line-height:20px;color:#000;transform:scaleX(0.973);left:312.70px;width:1000px;text-align:right;transform-origin:right center;">337,50</div>
<div class="t" style="top:276.70px;font-size:15.0px;line-height:20px;color:#000;transform:scaleX(0.973);left:378.90px;width:1000px;text-align:right;transform-origin:right center;">358,59</div>
<div class="t" style="top:276.70px;font-size:15.0px;line-height:20px;color:#000;transform:scaleX(0.973);left:443.70px;width:1000px;text-align:right;transform-origin:right center;">379,69</div>
<div class="t" style="top:298.82px;font-size:13.5px;line-height:20px;color:#000;left:-461.20px;width:1000px;text-align:center;transform-origin:center center;">6</div>
<div class="t" style="top:298.94px;font-size:14.9px;line-height:20px;color:#000;transform:scaleX(0.971);left:-323.30px;width:1000px;text-align:center;transform-origin:center center;">1024</div>
<div class="t" style="top:299.22px;font-size:13.8px;line-height:20px;color:#000;transform:scaleX(0.93);left:-281.20px;width:1000px;text-align:center;transform-origin:center center;">12,5</div>
<div class="t" style="top:298.55px;font-size:14.3px;line-height:20px;color:#000;transform:scaleX(0.954);left:-219.80px;width:1000px;text-align:center;transform-origin:center center;">7,5</div>
<div class="t" style="top:298.55px;font-size:14.3px;line-height:20px;color:#000;transform:scaleX(0.954);left:-131.35px;width:1000px;text-align:center;transform-origin:center center;">10,5</div>
<div class="t" style="top:298.70px;font-size:15.0px;line-height:20px;color:#000;transform:scaleX(0.973);left:-523.50px;width:1000px;text-align:right;transform-origin:right center;">52,73</div>
<div class="t" style="top:298.70px;font-size:15.0px;line-height:20px;color:#000;transform:scaleX(0.973);left:-458.20px;width:1000px;text-align:right;transform-origin:right center;">73,83</div>
<div class="t" style="top:298.70px;font-size:15.0px;line-height:20px;color:#000;transform:scaleX(0.973);left:-395.90px;width:1000px;text-align:right;transform-origin:right center;">105,47</div>
<div class="t" style="top:298.70px;font-size:15.0px;line-height:20px;color:#000;transform:scaleX(0.973);left:-330.70px;width:1000px;text-align:right;transform-origin:right center;">126,56</div>
<div class="t" style="top:298.70px;font-size:15.0px;line-height:20px;color:#000;transform:scaleX(0.973);left:-268.30px;width:1000px;text-align:right;transform-origin:right center;">147,66</div>
<div class="t" style="top:298.70px;font-size:15.0px;line-height:20px;color:#000;transform:scaleX(0.973);left:-205.70px;width:1000px;text-align:right;transform-origin:right center;">168,75</div>
<div class="t" style="top:298.70px;font-size:15.0px;line-height:20px;color:#000;transform:scaleX(0.973);left:-142.10px;width:1000px;text-align:right;transform-origin:right center;">189,84</div>
<div class="t" style="top:298.70px;font-size:15.0px;line-height:20px;color:#000;transform:scaleX(0.973);left:-78.30px;width:1000px;text-align:right;transform-origin:right center;">210,94</div>
<div class="t" style="top:298.70px;font-size:15.0px;line-height:20px;color:#000;transform:scaleX(0.973);left:-10.90px;width:1000px;text-align:right;transform-origin:right center;">232,03</div>
<div class="t" style="top:298.70px;font-size:15.0px;line-height:20px;color:#000;transform:scaleX(0.973);left:55.20px;width:1000px;text-align:right;transform-origin:right center;">253,13</div>
<div class="t" style="top:298.70px;font-size:15.0px;line-height:20px;color:#000;transform:scaleX(0.973);left:122.40px;width:1000px;text-align:right;transform-origin:right center;">274,22</div>
<div class="t" style="top:298.70px;font-size:15.0px;line-height:20px;color:#000;transform:scaleX(0.973);left:186.20px;width:1000px;text-align:right;transform-origin:right center;">295,31</div>
<div class="t" style="top:298.70px;font-size:15.0px;line-height:20px;color:#000;transform:scaleX(0.973);left:250.10px;width:1000px;text-align:right;transform-origin:right center;">316,41</div>
<div class="t" style="top:298.70px;font-size:15.0px;line-height:20px;color:#000;transform:scaleX(0.973);left:312.70px;width:1000px;text-align:right;transform-origin:right center;">337,50</div>
<div class="t" style="top:298.70px;font-size:15.0px;line-height:20px;color:#000;transform:scaleX(0.973);left:378.90px;width:1000px;text-align:right;transform-origin:right center;">358,59</div>
<div class="t" style="top:298.70px;font-size:15.0px;line-height:20px;color:#000;transform:scaleX(0.973);left:443.70px;width:1000px;text-align:right;transform-origin:right center;">379,69</div>
<div class="t" style="top:320.57px;font-size:13.5px;line-height:20px;color:#000;left:-461.20px;width:1000px;text-align:center;transform-origin:center center;">7</div>
<div class="t" style="top:320.69px;font-size:14.9px;line-height:20px;color:#000;transform:scaleX(0.971);left:-323.30px;width:1000px;text-align:center;transform-origin:center center;">1024</div>
<div class="t" style="top:320.69px;font-size:14.9px;line-height:20px;color:#000;transform:scaleX(0.971);left:-281.20px;width:1000px;text-align:center;transform-origin:center center;">25</div>
<div class="t" style="top:320.30px;font-size:14.3px;line-height:20px;color:#000;transform:scaleX(0.954);left:-219.80px;width:1000px;text-align:center;transform-origin:center center;">7,5</div>
<div class="t" style="top:320.30px;font-size:14.3px;line-height:20px;color:#000;transform:scaleX(0.954);left:-131.35px;width:1000px;text-align:center;transform-origin:center center;">10,5</div>
<div class="t" style="top:320.20px;font-size:15.0px;line-height:20px;color:#000;transform:scaleX(0.973);left:-523.50px;width:1000px;text-align:right;transform-origin:right center;">52,73</div>
<div class="t" style="top:320.20px;font-size:15.0px;line-height:20px;color:#000;transform:scaleX(0.973);left:-458.20px;width:1000px;text-align:right;transform-origin:right center;">73,83</div>
<div class="t" style="top:320.20px;font-size:15.0px;line-height:20px;color:#000;transform:scaleX(0.973);left:-395.90px;width:1000px;text-align:right;transform-origin:right center;">105,47</div>
<div class="t" style="top:320.20px;font-size:15.0px;line-height:20px;color:#000;transform:scaleX(0.973);left:-330.70px;width:1000px;text-align:right;transform-origin:right center;">126,56</div>
<div class="t" style="top:320.20px;font-size:15.0px;line-height:20px;color:#000;transform:scaleX(0.973);left:-268.30px;width:1000px;text-align:right;transform-origin:right center;">147,66</div>
<div class="t" style="top:320.20px;font-size:15.0px;line-height:20px;color:#000;transform:scaleX(0.973);left:-205.70px;width:1000px;text-align:right;transform-origin:right center;">168,75</div>
<div class="t" style="top:320.20px;font-size:15.0px;line-height:20px;color:#000;transform:scaleX(0.973);left:-142.10px;width:1000px;text-align:right;transform-origin:right center;">189,84</div>
<div class="t" style="top:320.20px;font-size:15.0px;line-height:20px;color:#000;transform:scaleX(0.973);left:-78.30px;width:1000px;text-align:right;transform-origin:right center;">210,94</div>
<div class="t" style="top:320.20px;font-size:15.0px;line-height:20px;color:#000;transform:scaleX(0.973);left:-10.90px;width:1000px;text-align:right;transform-origin:right center;">232,03</div>
<div class="t" style="top:320.20px;font-size:15.0px;line-height:20px;color:#000;transform:scaleX(0.973);left:55.20px;width:1000px;text-align:right;transform-origin:right center;">253,13</div>
<div class="t" style="top:320.20px;font-size:15.0px;line-height:20px;color:#000;transform:scaleX(0.973);left:122.40px;width:1000px;text-align:right;transform-origin:right center;">274,22</div>
<div class="t" style="top:320.20px;font-size:15.0px;line-height:20px;color:#000;transform:scaleX(0.973);left:186.20px;width:1000px;text-align:right;transform-origin:right center;">295,31</div>
<div class="t" style="top:320.20px;font-size:15.0px;line-height:20px;color:#000;transform:scaleX(0.973);left:250.10px;width:1000px;text-align:right;transform-origin:right center;">316,41</div>
<div class="t" style="top:320.20px;font-size:15.0px;line-height:20px;color:#000;transform:scaleX(0.973);left:312.70px;width:1000px;text-align:right;transform-origin:right center;">337,50</div>
<div class="t" style="top:320.20px;font-size:15.0px;line-height:20px;color:#000;transform:scaleX(0.973);left:378.90px;width:1000px;text-align:right;transform-origin:right center;">358,59</div>
<div class="t" style="top:320.20px;font-size:15.0px;line-height:20px;color:#000;transform:scaleX(0.973);left:443.70px;width:1000px;text-align:right;transform-origin:right center;">379,69</div>
<div class="t" style="top:342.07px;font-size:13.5px;line-height:20px;color:#000;left:-461.20px;width:1000px;text-align:center;transform-origin:center center;">8</div>
<div class="t" style="top:342.19px;font-size:14.9px;line-height:20px;color:#000;transform:scaleX(0.971);left:-323.30px;width:1000px;text-align:center;transform-origin:center center;">2048</div>
<div class="t" style="top:342.19px;font-size:14.9px;line-height:20px;color:#000;transform:scaleX(0.971);left:-281.20px;width:1000px;text-align:center;transform-origin:center center;">5</div>
<div class="t" style="top:341.80px;font-size:14.3px;line-height:20px;color:#000;transform:scaleX(0.954);left:-219.80px;width:1000px;text-align:center;transform-origin:center center;">15,0</div>
<div class="t" style="top:341.80px;font-size:14.3px;line-height:20px;color:#000;transform:scaleX(0.954);left:-131.35px;width:1000px;text-align:center;transform-origin:center center;">21,1</div>
<div class="t" style="top:341.70px;font-size:15.0px;line-height:20px;color:#000;transform:scaleX(0.973);left:-523.50px;width:1000px;text-align:right;transform-origin:right center;">105,47</div>
<div class="t" style="top:341.70px;font-size:15.0px;line-height:20px;color:#000;transform:scaleX(0.973);left:-458.20px;width:1000px;text-align:right;transform-origin:right center;">147,66</div>
<div class="t" style="top:341.70px;font-size:15.0px;line-height:20px;color:#000;transform:scaleX(0.973);left:-395.90px;width:1000px;text-align:right;transform-origin:right center;">210,94</div>
<div class="t" style="top:341.70px;font-size:15.0px;line-height:20px;color:#000;transform:scaleX(0.973);left:-330.70px;width:1000px;text-align:right;transform-origin:right center;">253,13</div>
<div class="t" style="top:341.70px;font-size:15.0px;line-height:20px;color:#000;transform:scaleX(0.973);left:-268.30px;width:1000px;text-align:right;transform-origin:right center;">295,31</div>
<div class="t" style="top:341.70px;font-size:15.0px;line-height:20px;color:#000;transform:scaleX(0.973);left:-205.70px;width:1000px;text-align:right;transform-origin:right center;">337,50</div>
<div class="t" style="top:341.70px;font-size:15.0px;line-height:20px;color:#000;transform:scaleX(0.973);left:-142.10px;width:1000px;text-align:right;transform-origin:right center;">379,69</div>
<div class="t" style="top:341.70px;font-size:15.0px;line-height:20px;color:#000;transform:scaleX(0.973);left:-78.30px;width:1000px;text-align:right;transform-origin:right center;">421,88</div>
<div class="t" style="top:341.70px;font-size:15.0px;line-height:20px;color:#000;transform:scaleX(0.973);left:-10.90px;width:1000px;text-align:right;transform-origin:right center;">464,06</div>
<div class="t" style="top:341.70px;font-size:15.0px;line-height:20px;color:#000;transform:scaleX(0.973);left:55.20px;width:1000px;text-align:right;transform-origin:right center;">506,25</div>
<div class="t" style="top:341.70px;font-size:15.0px;line-height:20px;color:#000;transform:scaleX(0.973);left:122.40px;width:1000px;text-align:right;transform-origin:right center;">548,44</div>
<div class="t" style="top:341.70px;font-size:15.0px;line-height:20px;color:#000;transform:scaleX(0.973);left:186.20px;width:1000px;text-align:right;transform-origin:right center;">590,63</div>
<div class="t" style="top:341.70px;font-size:15.0px;line-height:20px;color:#000;transform:scaleX(0.973);left:250.10px;width:1000px;text-align:right;transform-origin:right center;">632,81</div>
<div class="t" style="top:341.70px;font-size:15.0px;line-height:20px;color:#000;transform:scaleX(0.973);left:312.70px;width:1000px;text-align:right;transform-origin:right center;">675,00</div>
<div class="t" style="top:341.70px;font-size:15.0px;line-height:20px;color:#000;transform:scaleX(0.973);left:378.90px;width:1000px;text-align:right;transform-origin:right center;">717,19</div>
<div class="t" style="top:341.70px;font-size:15.0px;line-height:20px;color:#000;transform:scaleX(0.973);left:443.70px;width:1000px;text-align:right;transform-origin:right center;">759,38</div>
<div class="t" style="top:363.77px;font-size:13.5px;line-height:20px;color:#000;left:-461.20px;width:1000px;text-align:center;transform-origin:center center;">9</div>
<div class="t" style="top:363.89px;font-size:14.9px;line-height:20px;color:#000;transform:scaleX(0.971);left:-323.30px;width:1000px;text-align:center;transform-origin:center center;">2048</div>
<div class="t" style="top:364.17px;font-size:13.8px;line-height:20px;color:#000;transform:scaleX(0.93);left:-281.20px;width:1000px;text-align:center;transform-origin:center center;">12,5</div>
<div class="t" style="top:363.50px;font-size:14.3px;line-height:20px;color:#000;transform:scaleX(0.954);left:-219.80px;width:1000px;text-align:center;transform-origin:center center;">15,0</div>
<div class="t" style="top:363.50px;font-size:14.3px;line-height:20px;color:#000;transform:scaleX(0.954);left:-131.35px;width:1000px;text-align:center;transform-origin:center center;">21,1</div>
<div class="t" style="top:363.60px;font-size:15.0px;line-height:20px;color:#000;transform:scaleX(0.973);left:-523.50px;width:1000px;text-align:right;transform-origin:right center;">105,47</div>
<div class="t" style="top:363.60px;font-size:15.0px;line-height:20px;color:#000;transform:scaleX(0.973);left:-458.20px;width:1000px;text-align:right;transform-origin:right center;">147,66</div>
<div class="t" style="top:363.60px;font-size:15.0px;line-height:20px;color:#000;transform:scaleX(0.973);left:-395.90px;width:1000px;text-align:right;transform-origin:right center;">210,94</div>
<div class="t" style="top:363.60px;font-size:15.0px;line-height:20px;color:#000;transform:scaleX(0.973);left:-330.70px;width:1000px;text-align:right;transform-origin:right center;">253,13</div>
<div class="t" style="top:363.60px;font-size:15.0px;line-height:20px;color:#000;transform:scaleX(0.973);left:-268.30px;width:1000px;text-align:right;transform-origin:right center;">295,31</div>
<div class="t" style="top:363.60px;font-size:15.0px;line-height:20px;color:#000;transform:scaleX(0.973);left:-205.70px;width:1000px;text-align:right;transform-origin:right center;">337,50</div>
<div class="t" style="top:363.60px;font-size:15.0px;line-height:20px;color:#000;transform:scaleX(0.973);left:-142.10px;width:1000px;text-align:right;transform-origin:right center;">379,69</div>
<div class="t" style="top:363.60px;font-size:15.0px;line-height:20px;color:#000;transform:scaleX(0.973);left:-78.30px;width:1000px;text-align:right;transform-origin:right center;">421,88</div>
<div class="t" style="top:363.60px;font-size:15.0px;line-height:20px;color:#000;transform:scaleX(0.973);left:-10.90px;width:1000px;text-align:right;transform-origin:right center;">464,06</div>
<div class="t" style="top:363.60px;font-size:15.0px;line-height:20px;color:#000;transform:scaleX(0.973);left:55.20px;width:1000px;text-align:right;transform-origin:right center;">506,25</div>
<div class="t" style="top:363.60px;font-size:15.0px;line-height:20px;color:#000;transform:scaleX(0.973);left:122.40px;width:1000px;text-align:right;transform-origin:right center;">548,44</div>
<div class="t" style="top:363.60px;font-size:15.0px;line-height:20px;color:#000;transform:scaleX(0.973);left:186.20px;width:1000px;text-align:right;transform-origin:right center;">590,63</div>
<div class="t" style="top:363.60px;font-size:15.0px;line-height:20px;color:#000;transform:scaleX(0.973);left:250.10px;width:1000px;text-align:right;transform-origin:right center;">632,81</div>
<div class="t" style="top:363.60px;font-size:15.0px;line-height:20px;color:#000;transform:scaleX(0.973);left:312.70px;width:1000px;text-align:right;transform-origin:right center;">675,00</div>
<div class="t" style="top:363.60px;font-size:15.0px;line-height:20px;color:#000;transform:scaleX(0.973);left:378.90px;width:1000px;text-align:right;transform-origin:right center;">717,19</div>
<div class="t" style="top:363.60px;font-size:15.0px;line-height:20px;color:#000;transform:scaleX(0.973);left:443.70px;width:1000px;text-align:right;transform-origin:right center;">759,38</div>
<div class="t" style="top:385.67px;font-size:13.5px;line-height:20px;color:#000;left:-461.20px;width:1000px;text-align:center;transform-origin:center center;">10</div>
<div class="t" style="top:385.79px;font-size:14.9px;line-height:20px;color:#000;transform:scaleX(0.971);left:-323.30px;width:1000px;text-align:center;transform-origin:center center;">2048</div>
<div class="t" style="top:385.79px;font-size:14.9px;line-height:20px;color:#000;transform:scaleX(0.971);left:-281.20px;width:1000px;text-align:center;transform-origin:center center;">25</div>
<div class="t" style="top:385.40px;font-size:14.3px;line-height:20px;color:#000;transform:scaleX(0.954);left:-219.80px;width:1000px;text-align:center;transform-origin:center center;">15,0</div>
<div class="t" style="top:385.40px;font-size:14.3px;line-height:20px;color:#000;transform:scaleX(0.954);left:-131.35px;width:1000px;text-align:center;transform-origin:center center;">21,1</div>
<div class="t" style="top:385.50px;font-size:15.0px;line-height:20px;color:#000;transform:scaleX(0.973);left:-523.50px;width:1000px;text-align:right;transform-origin:right center;">105,47</div>
<div class="t" style="top:385.50px;font-size:15.0px;line-height:20px;color:#000;transform:scaleX(0.973);left:-458.20px;width:1000px;text-align:right;transform-origin:right center;">147,66</div>
<div class="t" style="top:385.50px;font-size:15.0px;line-height:20px;color:#000;transform:scaleX(0.973);left:-395.90px;width:1000px;text-align:right;transform-origin:right center;">210,94</div>
<div class="t" style="top:385.50px;font-size:15.0px;line-height:20px;color:#000;transform:scaleX(0.973);left:-330.70px;width:1000px;text-align:right;transform-origin:right center;">253,13</div>
<div class="t" style="top:385.50px;font-size:15.0px;line-height:20px;color:#000;transform:scaleX(0.973);left:-268.30px;width:1000px;text-align:right;transform-origin:right center;">295,31</div>
<div class="t" style="top:385.50px;font-size:15.0px;line-height:20px;color:#000;transform:scaleX(0.973);left:-205.70px;width:1000px;text-align:right;transform-origin:right center;">337,50</div>
<div class="t" style="top:385.50px;font-size:15.0px;line-height:20px;color:#000;transform:scaleX(0.973);left:-142.10px;width:1000px;text-align:right;transform-origin:right center;">379,69</div>
<div class="t" style="top:385.50px;font-size:15.0px;line-height:20px;color:#000;transform:scaleX(0.973);left:-78.30px;width:1000px;text-align:right;transform-origin:right center;">421,88</div>
<div class="t" style="top:385.50px;font-size:15.0px;line-height:20px;color:#000;transform:scaleX(0.973);left:-10.90px;width:1000px;text-align:right;transform-origin:right center;">464,06</div>
<div class="t" style="top:385.50px;font-size:15.0px;line-height:20px;color:#000;transform:scaleX(0.973);left:55.20px;width:1000px;text-align:right;transform-origin:right center;">506,25</div>
<div class="t" style="top:385.50px;font-size:15.0px;line-height:20px;color:#000;transform:scaleX(0.973);left:122.40px;width:1000px;text-align:right;transform-origin:right center;">548,44</div>
<div class="t" style="top:385.50px;font-size:15.0px;line-height:20px;color:#000;transform:scaleX(0.973);left:186.20px;width:1000px;text-align:right;transform-origin:right center;">590,63</div>
<div class="t" style="top:385.50px;font-size:15.0px;line-height:20px;color:#000;transform:scaleX(0.973);left:250.10px;width:1000px;text-align:right;transform-origin:right center;">632,81</div>
<div class="t" style="top:385.50px;font-size:15.0px;line-height:20px;color:#000;transform:scaleX(0.973);left:312.70px;width:1000px;text-align:right;transform-origin:right center;">675,00</div>
<div class="t" style="top:385.50px;font-size:15.0px;line-height:20px;color:#000;transform:scaleX(0.973);left:378.90px;width:1000px;text-align:right;transform-origin:right center;">717,19</div>
<div class="t" style="top:385.50px;font-size:15.0px;line-height:20px;color:#000;transform:scaleX(0.973);left:443.70px;width:1000px;text-align:right;transform-origin:right center;">759,38</div>
<div class="t" style="top:407.30px;font-size:13.5px;line-height:20px;color:#000;left:-461.20px;width:1000px;text-align:center;transform-origin:center center;">11</div>
<div class="t" style="top:407.41px;font-size:14.9px;line-height:20px;color:#000;transform:scaleX(0.971);left:-323.30px;width:1000px;text-align:center;transform-origin:center center;">4096</div>
<div class="t" style="top:407.41px;font-size:14.9px;line-height:20px;color:#000;transform:scaleX(0.971);left:-281.20px;width:1000px;text-align:center;transform-origin:center center;">5</div>
<div class="t" style="top:407.02px;font-size:14.3px;line-height:20px;color:#000;transform:scaleX(0.954);left:-219.80px;width:1000px;text-align:center;transform-origin:center center;">30,0</div>
<div class="t" style="top:407.02px;font-size:14.3px;line-height:20px;color:#000;transform:scaleX(0.954);left:-131.35px;width:1000px;text-align:center;transform-origin:center center;">42,2</div>
<div class="t" style="top:406.85px;font-size:15.0px;line-height:20px;color:#000;transform:scaleX(0.973);left:-523.50px;width:1000px;text-align:right;transform-origin:right center;">210,94</div>
<div class="t" style="top:406.85px;font-size:15.0px;line-height:20px;color:#000;transform:scaleX(0.973);left:-458.20px;width:1000px;text-align:right;transform-origin:right center;">295,31</div>
<div class="t" style="top:406.85px;font-size:15.0px;line-height:20px;color:#000;transform:scaleX(0.973);left:-395.90px;width:1000px;text-align:right;transform-origin:right center;">421,88</div>
<div class="t" style="top:406.85px;font-size:15.0px;line-height:20px;color:#000;transform:scaleX(0.973);left:-330.70px;width:1000px;text-align:right;transform-origin:right center;">506,25</div>
<div class="t" style="top:406.85px;font-size:15.0px;line-height:20px;color:#000;transform:scaleX(0.973);left:-268.30px;width:1000px;text-align:right;transform-origin:right center;">590,63</div>
<div class="t" style="top:406.85px;font-size:15.0px;line-height:20px;color:#000;transform:scaleX(0.973);left:-205.70px;width:1000px;text-align:right;transform-origin:right center;">675,00</div>
<div class="t" style="top:406.85px;font-size:15.0px;line-height:20px;color:#000;transform:scaleX(0.973);left:-142.10px;width:1000px;text-align:right;transform-origin:right center;">759,38</div>
<div class="t" style="top:406.85px;font-size:15.0px;line-height:20px;color:#000;transform:scaleX(0.973);left:-78.30px;width:1000px;text-align:right;transform-origin:right center;">843,75</div>
<div class="t" style="top:406.85px;font-size:15.0px;line-height:20px;color:#000;transform:scaleX(0.973);left:-10.90px;width:1000px;text-align:right;transform-origin:right center;">928,13</div>
<div class="t" style="top:406.85px;font-size:15.0px;line-height:20px;color:#000;transform:scaleX(0.973);left:55.20px;width:1000px;text-align:right;transform-origin:right center;">1012,50</div>
<div class="t" style="top:406.85px;font-size:15.0px;line-height:20px;color:#000;transform:scaleX(0.973);left:122.40px;width:1000px;text-align:right;transform-origin:right center;">1096,88</div>
<div class="t" style="top:406.85px;font-size:15.0px;line-height:20px;color:#000;transform:scaleX(0.973);left:186.20px;width:1000px;text-align:right;transform-origin:right center;">1181,25</div>
<div class="t" style="top:406.85px;font-size:15.0px;line-height:20px;color:#000;transform:scaleX(0.973);left:250.10px;width:1000px;text-align:right;transform-origin:right center;">1265,63</div>
<div class="t" style="top:406.85px;font-size:15.0px;line-height:20px;color:#000;transform:scaleX(0.973);left:312.70px;width:1000px;text-align:right;transform-origin:right center;">1350,00</div>
<div class="t" style="top:406.85px;font-size:15.0px;line-height:20px;color:#000;transform:scaleX(0.973);left:378.90px;width:1000px;text-align:right;transform-origin:right center;">1434,38</div>
<div class="t" style="top:406.85px;font-size:15.0px;line-height:20px;color:#000;transform:scaleX(0.973);left:443.70px;width:1000px;text-align:right;transform-origin:right center;">1518,75</div>
<div class="t" style="top:428.72px;font-size:13.5px;line-height:20px;color:#000;left:-461.20px;width:1000px;text-align:center;transform-origin:center center;">12</div>
<div class="t" style="top:428.84px;font-size:14.9px;line-height:20px;color:#000;transform:scaleX(0.971);left:-323.30px;width:1000px;text-align:center;transform-origin:center center;">4096</div>
<div class="t" style="top:429.12px;font-size:13.8px;line-height:20px;color:#000;transform:scaleX(0.93);left:-281.20px;width:1000px;text-align:center;transform-origin:center center;">12,5</div>
<div class="t" style="top:428.45px;font-size:14.3px;line-height:20px;color:#000;transform:scaleX(0.954);left:-219.80px;width:1000px;text-align:center;transform-origin:center center;">30,0</div>
<div class="t" style="top:428.45px;font-size:14.3px;line-height:20px;color:#000;transform:scaleX(0.954);left:-131.35px;width:1000px;text-align:center;transform-origin:center center;">42,2</div>
<div class="t" style="top:428.35px;font-size:15.0px;line-height:20px;color:#000;transform:scaleX(0.973);left:-523.50px;width:1000px;text-align:right;transform-origin:right center;">210,94</div>
<div class="t" style="top:428.35px;font-size:15.0px;line-height:20px;color:#000;transform:scaleX(0.973);left:-458.20px;width:1000px;text-align:right;transform-origin:right center;">295,31</div>
<div class="t" style="top:428.35px;font-size:15.0px;line-height:20px;color:#000;transform:scaleX(0.973);left:-395.90px;width:1000px;text-align:right;transform-origin:right center;">421,88</div>
<div class="t" style="top:428.35px;font-size:15.0px;line-height:20px;color:#000;transform:scaleX(0.973);left:-330.70px;width:1000px;text-align:right;transform-origin:right center;">506,25</div>
<div class="t" style="top:428.35px;font-size:15.0px;line-height:20px;color:#000;transform:scaleX(0.973);left:-268.30px;width:1000px;text-align:right;transform-origin:right center;">590,63</div>
<div class="t" style="top:428.35px;font-size:15.0px;line-height:20px;color:#000;transform:scaleX(0.973);left:-205.70px;width:1000px;text-align:right;transform-origin:right center;">675,00</div>
<div class="t" style="top:428.35px;font-size:15.0px;line-height:20px;color:#000;transform:scaleX(0.973);left:-142.10px;width:1000px;text-align:right;transform-origin:right center;">759,38</div>
<div class="t" style="top:428.35px;font-size:15.0px;line-height:20px;color:#000;transform:scaleX(0.973);left:-78.30px;width:1000px;text-align:right;transform-origin:right center;">843,75</div>
<div class="t" style="top:428.35px;font-size:15.0px;line-height:20px;color:#000;transform:scaleX(0.973);left:-10.90px;width:1000px;text-align:right;transform-origin:right center;">928,13</div>
<div class="t" style="top:428.35px;font-size:15.0px;line-height:20px;color:#000;transform:scaleX(0.973);left:55.20px;width:1000px;text-align:right;transform-origin:right center;">1012,50</div>
<div class="t" style="top:428.35px;font-size:15.0px;line-height:20px;color:#000;transform:scaleX(0.973);left:122.40px;width:1000px;text-align:right;transform-origin:right center;">1096,88</div>
<div class="t" style="top:428.35px;font-size:15.0px;line-height:20px;color:#000;transform:scaleX(0.973);left:186.20px;width:1000px;text-align:right;transform-origin:right center;">1181,25</div>
<div class="t" style="top:428.35px;font-size:15.0px;line-height:20px;color:#000;transform:scaleX(0.973);left:250.10px;width:1000px;text-align:right;transform-origin:right center;">1265,63</div>
<div class="t" style="top:428.35px;font-size:15.0px;line-height:20px;color:#000;transform:scaleX(0.973);left:312.70px;width:1000px;text-align:right;transform-origin:right center;">1350,00</div>
<div class="t" style="top:428.35px;font-size:15.0px;line-height:20px;color:#000;transform:scaleX(0.973);left:378.90px;width:1000px;text-align:right;transform-origin:right center;">1434,38</div>
<div class="t" style="top:428.35px;font-size:15.0px;line-height:20px;color:#000;transform:scaleX(0.973);left:443.70px;width:1000px;text-align:right;transform-origin:right center;">1518,75</div>
<div class="t" style="top:450.45px;font-size:13.5px;line-height:20px;color:#000;left:-461.20px;width:1000px;text-align:center;transform-origin:center center;">13</div>
<div class="t" style="top:450.56px;font-size:14.9px;line-height:20px;color:#000;transform:scaleX(0.971);left:-323.30px;width:1000px;text-align:center;transform-origin:center center;">4096</div>
<div class="t" style="top:450.56px;font-size:14.9px;line-height:20px;color:#000;transform:scaleX(0.971);left:-281.20px;width:1000px;text-align:center;transform-origin:center center;">25</div>
<div class="t" style="top:450.17px;font-size:14.3px;line-height:20px;color:#000;transform:scaleX(0.954);left:-219.80px;width:1000px;text-align:center;transform-origin:center center;">30,0</div>
<div class="t" style="top:450.17px;font-size:14.3px;line-height:20px;color:#000;transform:scaleX(0.954);left:-131.35px;width:1000px;text-align:center;transform-origin:center center;">42,2</div>
<div class="t" style="top:450.30px;font-size:15.0px;line-height:20px;color:#000;transform:scaleX(0.973);left:-523.50px;width:1000px;text-align:right;transform-origin:right center;">210,94</div>
<div class="t" style="top:450.30px;font-size:15.0px;line-height:20px;color:#000;transform:scaleX(0.973);left:-458.20px;width:1000px;text-align:right;transform-origin:right center;">295,31</div>
<div class="t" style="top:450.30px;font-size:15.0px;line-height:20px;color:#000;transform:scaleX(0.973);left:-395.90px;width:1000px;text-align:right;transform-origin:right center;">421,88</div>
<div class="t" style="top:450.30px;font-size:15.0px;line-height:20px;color:#000;transform:scaleX(0.973);left:-330.70px;width:1000px;text-align:right;transform-origin:right center;">506,25</div>
<div class="t" style="top:450.30px;font-size:15.0px;line-height:20px;color:#000;transform:scaleX(0.973);left:-268.30px;width:1000px;text-align:right;transform-origin:right center;">590,63</div>
<div class="t" style="top:450.30px;font-size:15.0px;line-height:20px;color:#000;transform:scaleX(0.973);left:-205.70px;width:1000px;text-align:right;transform-origin:right center;">675,00</div>
<div class="t" style="top:450.30px;font-size:15.0px;line-height:20px;color:#000;transform:scaleX(0.973);left:-142.10px;width:1000px;text-align:right;transform-origin:right center;">759,38</div>
<div class="t" style="top:450.30px;font-size:15.0px;line-height:20px;color:#000;transform:scaleX(0.973);left:-78.30px;width:1000px;text-align:right;transform-origin:right center;">843,75</div>
<div class="t" style="top:450.30px;font-size:15.0px;line-height:20px;color:#000;transform:scaleX(0.973);left:-10.90px;width:1000px;text-align:right;transform-origin:right center;">928,13</div>
<div class="t" style="top:450.30px;font-size:15.0px;line-height:20px;color:#000;transform:scaleX(0.973);left:55.20px;width:1000px;text-align:right;transform-origin:right center;">1012,50</div>
<div class="t" style="top:450.30px;font-size:15.0px;line-height:20px;color:#000;transform:scaleX(0.973);left:122.40px;width:1000px;text-align:right;transform-origin:right center;">1096,88</div>
<div class="t" style="top:450.30px;font-size:15.0px;line-height:20px;color:#000;transform:scaleX(0.973);left:186.20px;width:1000px;text-align:right;transform-origin:right center;">1181,25</div>
<div class="t" style="top:450.30px;font-size:15.0px;line-height:20px;color:#000;transform:scaleX(0.973);left:250.10px;width:1000px;text-align:right;transform-origin:right center;">1265,63</div>
<div class="t" style="top:450.30px;font-size:15.0px;line-height:20px;color:#000;transform:scaleX(0.973);left:312.70px;width:1000px;text-align:right;transform-origin:right center;">1350,00</div>
<div class="t" style="top:450.30px;font-size:15.0px;line-height:20px;color:#000;transform:scaleX(0.973);left:378.90px;width:1000px;text-align:right;transform-origin:right center;">1434,38</div>
<div class="t" style="top:450.30px;font-size:15.0px;line-height:20px;color:#000;transform:scaleX(0.973);left:443.70px;width:1000px;text-align:right;transform-origin:right center;">1518,75</div>
<div class="t" style="top:505.17px;font-size:13.5px;line-height:20px;color:#000;left:-461.20px;width:1000px;text-align:center;transform-origin:center center;">14</div>
<div class="t" style="top:505.29px;font-size:14.9px;line-height:20px;color:#000;transform:scaleX(0.971);left:-323.30px;width:1000px;text-align:center;transform-origin:center center;">макс</div>
<div class="t" style="top:505.29px;font-size:14.9px;line-height:20px;color:#000;transform:scaleX(0.971);left:-281.20px;width:1000px;text-align:center;transform-origin:center center;">25</div>
<div class="t" style="top:504.90px;font-size:14.3px;line-height:20px;color:#000;transform:scaleX(0.954);left:-219.80px;width:1000px;text-align:center;transform-origin:center center;">136,0</div>
<div class="t" style="top:504.90px;font-size:14.3px;line-height:20px;color:#000;transform:scaleX(0.954);left:-131.35px;width:1000px;text-align:center;transform-origin:center center;">191,3</div>
<div class="t" style="top:505.45px;font-size:15.0px;line-height:20px;color:#000;transform:scaleX(0.973);left:-523.50px;width:1000px;text-align:right;transform-origin:right center;">956,25</div>
<div class="t" style="top:505.45px;font-size:15.0px;line-height:20px;color:#000;transform:scaleX(0.973);left:-458.20px;width:1000px;text-align:right;transform-origin:right center;">1338,75</div>
<div class="t" style="top:505.45px;font-size:15.0px;line-height:20px;color:#000;transform:scaleX(0.973);left:-395.90px;width:1000px;text-align:right;transform-origin:right center;">1912,50</div>
<div class="t" style="top:505.45px;font-size:15.0px;line-height:20px;color:#000;transform:scaleX(0.973);left:-330.70px;width:1000px;text-align:right;transform-origin:right center;">2295,00</div>
<div class="t" style="top:505.45px;font-size:15.0px;line-height:20px;color:#000;transform:scaleX(0.973);left:-268.30px;width:1000px;text-align:right;transform-origin:right center;">2677,50</div>
<div class="t" style="top:505.45px;font-size:15.0px;line-height:20px;color:#000;transform:scaleX(0.973);left:-205.70px;width:1000px;text-align:right;transform-origin:right center;">3060,00</div>
<div class="t" style="top:505.45px;font-size:15.0px;line-height:20px;color:#000;transform:scaleX(0.973);left:-142.10px;width:1000px;text-align:right;transform-origin:right center;">3442,50</div>
<div class="t" style="top:505.45px;font-size:15.0px;line-height:20px;color:#000;transform:scaleX(0.973);left:-78.30px;width:1000px;text-align:right;transform-origin:right center;">3825,00</div>
<div class="t" style="top:505.45px;font-size:15.0px;line-height:20px;color:#000;transform:scaleX(0.973);left:-10.90px;width:1000px;text-align:right;transform-origin:right center;">4207,50</div>
<div class="t" style="top:505.45px;font-size:15.0px;line-height:20px;color:#000;transform:scaleX(0.973);left:55.20px;width:1000px;text-align:right;transform-origin:right center;">4590,00</div>
<div class="t" style="top:505.45px;font-size:15.0px;line-height:20px;color:#000;transform:scaleX(0.973);left:122.40px;width:1000px;text-align:right;transform-origin:right center;">4972,50</div>
<div class="t" style="top:505.45px;font-size:15.0px;line-height:20px;color:#000;transform:scaleX(0.973);left:186.20px;width:1000px;text-align:right;transform-origin:right center;">5355,00</div>
<div class="t" style="top:505.45px;font-size:15.0px;line-height:20px;color:#000;transform:scaleX(0.973);left:250.10px;width:1000px;text-align:right;transform-origin:right center;">5737,50</div>
<div class="t" style="top:505.45px;font-size:15.0px;line-height:20px;color:#000;transform:scaleX(0.973);left:312.70px;width:1000px;text-align:right;transform-origin:right center;">6120,00</div>
<div class="t" style="top:505.45px;font-size:15.0px;line-height:20px;color:#000;transform:scaleX(0.973);left:378.90px;width:1000px;text-align:right;transform-origin:right center;">6502,50</div>
<div class="t" style="top:505.45px;font-size:15.0px;line-height:20px;color:#000;transform:scaleX(0.973);left:443.70px;width:1000px;text-align:right;transform-origin:right center;">6885,00</div>
<div class="t" style="top:591.72px;font-size:13.5px;line-height:20px;color:#000;left:-461.20px;width:1000px;text-align:center;transform-origin:center center;">15</div>
<div class="t" style="top:591.84px;font-size:14.9px;line-height:20px;color:#000;transform:scaleX(0.971);left:-323.30px;width:1000px;text-align:center;transform-origin:center center;">макс</div>
<div class="t" style="top:591.84px;font-size:14.9px;line-height:20px;color:#000;transform:scaleX(0.971);left:-281.20px;width:1000px;text-align:center;transform-origin:center center;">25</div>
<div class="t" style="top:591.45px;font-size:14.3px;line-height:20px;color:#000;transform:scaleX(0.954);left:-219.80px;width:1000px;text-align:center;transform-origin:center center;">179,0</div>
<div class="t" style="top:591.45px;font-size:14.3px;line-height:20px;color:#000;transform:scaleX(0.954);left:-131.35px;width:1000px;text-align:center;transform-origin:center center;">251,7</div>
<div class="t" style="top:592.00px;font-size:15.0px;line-height:20px;color:#000;transform:scaleX(0.973);left:-523.50px;width:1000px;text-align:right;transform-origin:right center;">1258,59</div>
<div class="t" style="top:592.00px;font-size:15.0px;line-height:20px;color:#000;transform:scaleX(0.973);left:-458.20px;width:1000px;text-align:right;transform-origin:right center;">1762,03</div>
<div class="t" style="top:592.00px;font-size:15.0px;line-height:20px;color:#000;transform:scaleX(0.973);left:-395.90px;width:1000px;text-align:right;transform-origin:right center;">2517,19</div>
<div class="t" style="top:592.00px;font-size:15.0px;line-height:20px;color:#000;transform:scaleX(0.973);left:-330.70px;width:1000px;text-align:right;transform-origin:right center;">3020,63</div>
<div class="t" style="top:592.00px;font-size:15.0px;line-height:20px;color:#000;transform:scaleX(0.973);left:-268.30px;width:1000px;text-align:right;transform-origin:right center;">3524,06</div>
<div class="t" style="top:592.00px;font-size:15.0px;line-height:20px;color:#000;transform:scaleX(0.973);left:-205.70px;width:1000px;text-align:right;transform-origin:right center;">4027,50</div>
<div class="t" style="top:592.00px;font-size:15.0px;line-height:20px;color:#000;transform:scaleX(0.973);left:-142.10px;width:1000px;text-align:right;transform-origin:right center;">4530,94</div>
<div class="t" style="top:592.00px;font-size:15.0px;line-height:20px;color:#000;transform:scaleX(0.973);left:-78.30px;width:1000px;text-align:right;transform-origin:right center;">5034,38</div>
<div class="t" style="top:592.00px;font-size:15.0px;line-height:20px;color:#000;transform:scaleX(0.973);left:-10.90px;width:1000px;text-align:right;transform-origin:right center;">5537,81</div>
<div class="t" style="top:592.00px;font-size:15.0px;line-height:20px;color:#000;transform:scaleX(0.973);left:55.20px;width:1000px;text-align:right;transform-origin:right center;">6041,25</div>
<div class="t" style="top:592.00px;font-size:15.0px;line-height:20px;color:#000;transform:scaleX(0.973);left:122.40px;width:1000px;text-align:right;transform-origin:right center;">6544,69</div>
<div class="t" style="top:592.00px;font-size:15.0px;line-height:20px;color:#000;transform:scaleX(0.973);left:186.20px;width:1000px;text-align:right;transform-origin:right center;">7048,13</div>
<div class="t" style="top:592.00px;font-size:15.0px;line-height:20px;color:#000;transform:scaleX(0.973);left:250.10px;width:1000px;text-align:right;transform-origin:right center;">7551,56</div>
<div class="t" style="top:592.00px;font-size:15.0px;line-height:20px;color:#000;transform:scaleX(0.973);left:312.70px;width:1000px;text-align:right;transform-origin:right center;">8055,00</div>
<div class="t" style="top:592.00px;font-size:15.0px;line-height:20px;color:#000;transform:scaleX(0.973);left:378.90px;width:1000px;text-align:right;transform-origin:right center;">8558,44</div>
<div class="t" style="top:592.00px;font-size:15.0px;line-height:20px;color:#000;transform:scaleX(0.973);left:443.70px;width:1000px;text-align:right;transform-origin:right center;">9061,88</div>
<div class="t" style="top:652.87px;font-size:13.5px;line-height:20px;color:#000;transform:scaleX(0.86);left:113.00px;transform-origin:left center;">BRVS2</div>
<div class="t" style="top:674.27px;font-size:13.5px;line-height:20px;color:#000;transform:scaleX(0.953);left:113.00px;transform-origin:left center;">BRVM2</div>
<div class="t" style="top:695.87px;font-size:13.5px;line-height:20px;color:#000;transform:scaleX(0.885);left:113.00px;transform-origin:left center;">BRVL2</div>
<div class="t" style="top:717.47px;font-size:13.5px;line-height:20px;color:#000;left:113.00px;transform-origin:left center;">критическая загрузка</div>
<div class="t" style="top:759.93px;font-size:15.2px;line-height:20px;color:#000;left:59.70px;transform-origin:left center;">* - данные представлены при максимальном использования потока и непрерывной записи</div>
</body></html>
